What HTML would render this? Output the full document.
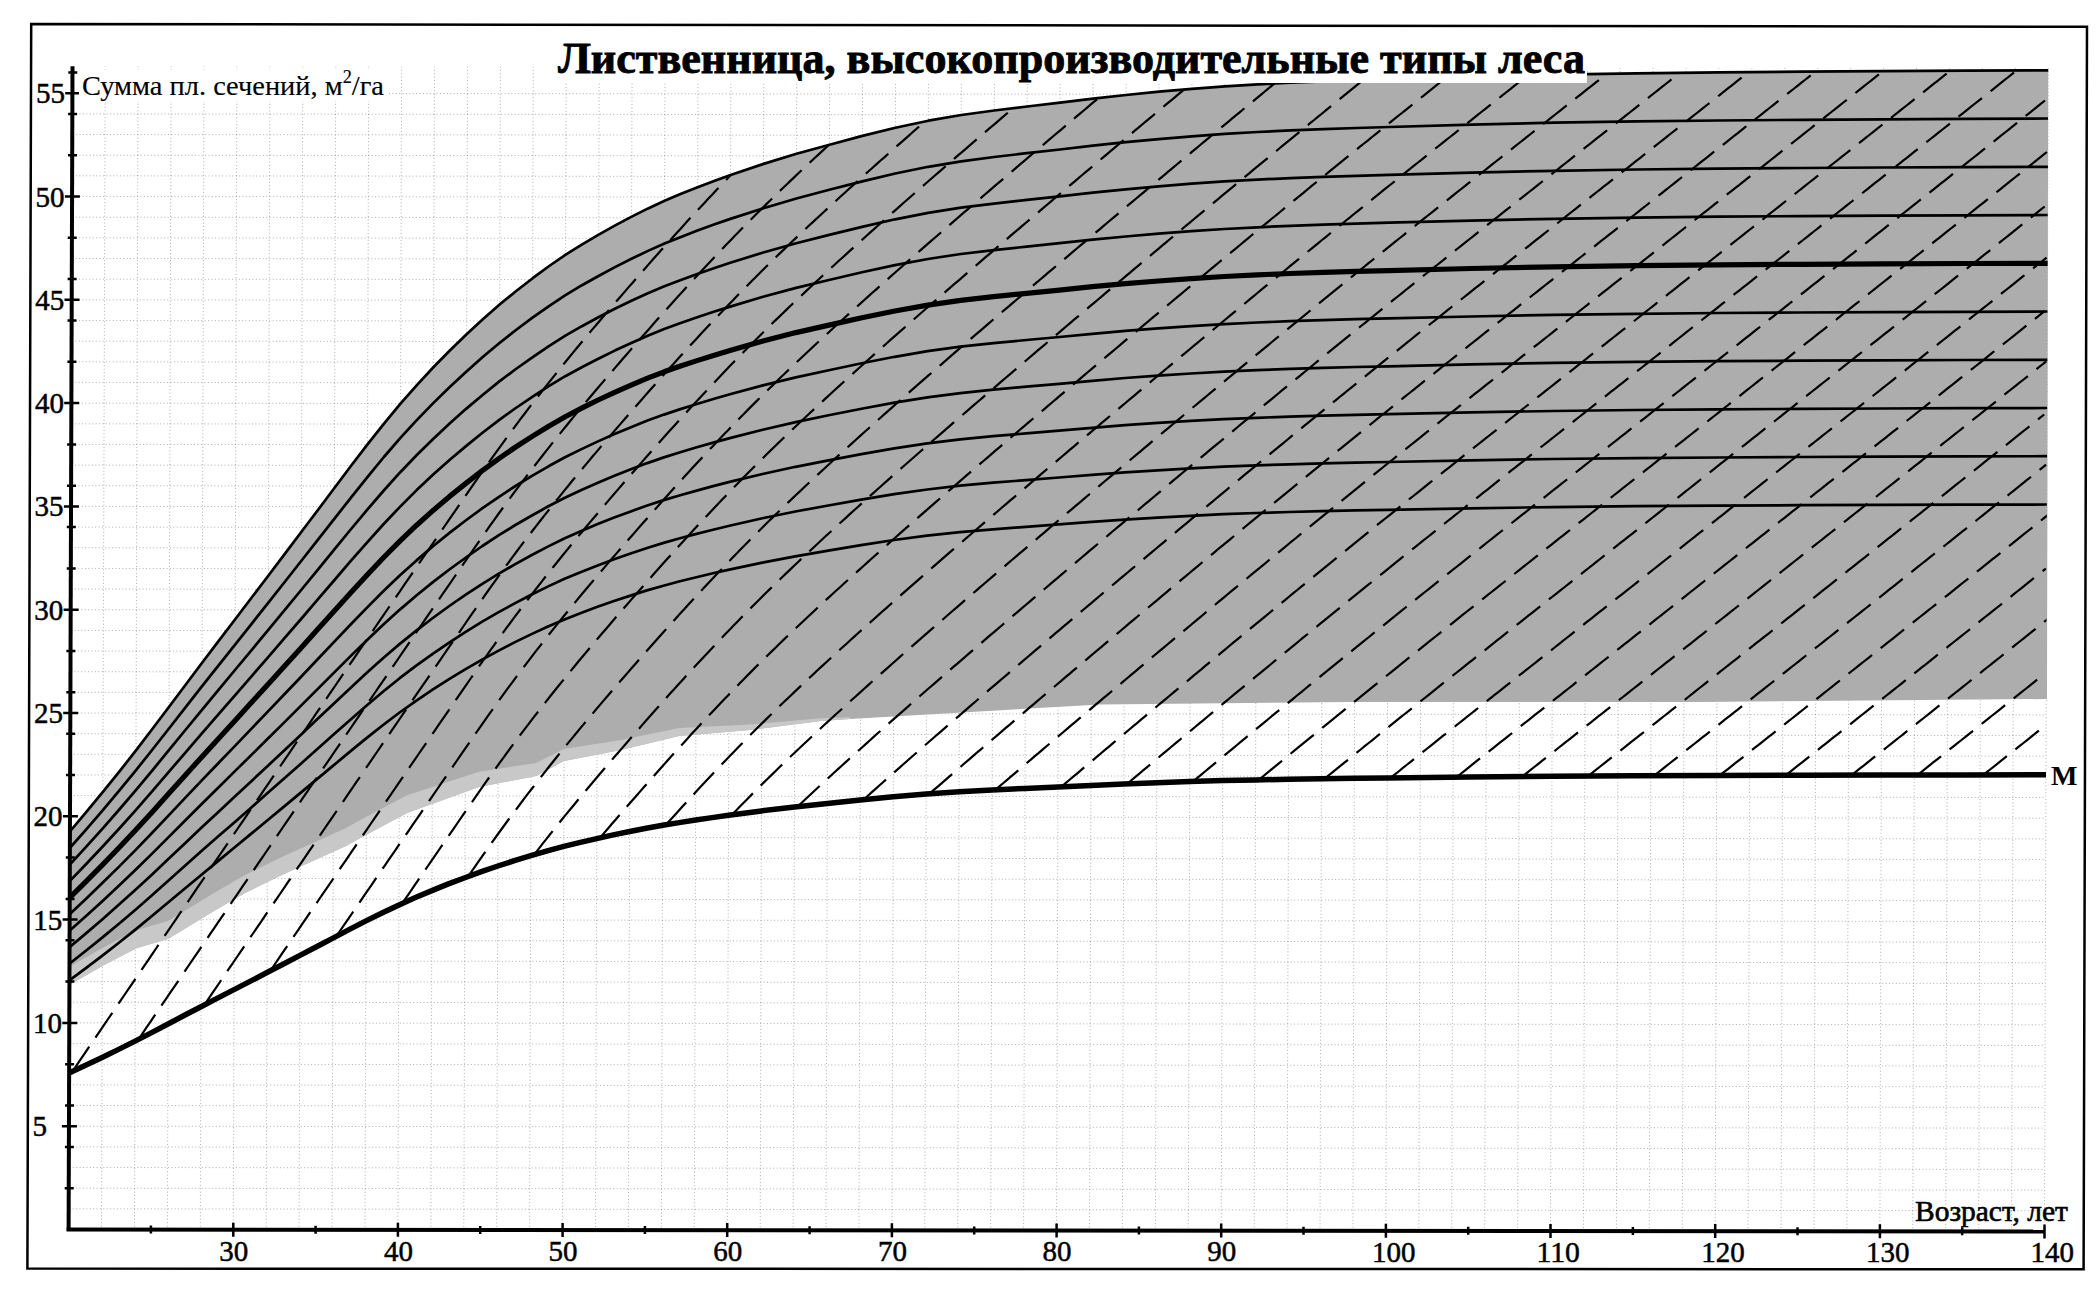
<!DOCTYPE html>
<html><head><meta charset="utf-8"><style>
html,body{margin:0;padding:0;background:#fff;overflow:hidden;}
svg{display:block;}
</style></head><body>
<svg width="2100" height="1295" viewBox="0 0 2100 1295">
<rect width="2100" height="1295" fill="#fff"/>
<path d="M72.7,1208.8 L2044.6,1210.7 M72.7,1188.2 L2044.7,1190.1 M72.8,1167.5 L2044.7,1169.4 M72.9,1146.9 L2044.8,1148.8 M72.9,1126.2 L2044.8,1128.1 M73.0,1105.5 L2044.9,1107.4 M73.1,1084.9 L2045.0,1086.8 M73.1,1064.2 L2045.0,1066.1 M73.2,1043.6 L2045.1,1045.5 M73.3,1022.9 L2045.2,1024.8 M73.3,1002.2 L2045.2,1004.1 M73.4,981.6 L2045.3,983.5 M73.5,960.9 L2045.4,962.8 M73.5,940.3 L2045.4,942.2 M73.6,919.6 L2045.5,921.5 M73.6,898.9 L2045.6,900.8 M73.7,878.3 L2045.6,880.2 M73.8,857.6 L2045.7,859.5 M73.8,837.0 L2045.8,838.9 M73.9,816.3 L2045.8,818.2 M74.0,795.6 L2045.9,797.5 M74.0,775.0 L2046.0,776.9 M74.1,754.3 L2046.0,756.2 M74.2,733.7 L2046.1,735.6 M74.2,713.0 L2046.2,714.9 M74.3,692.3 L2046.2,694.2 M74.4,671.7 L2046.3,673.6 M74.4,651.0 L2046.4,652.9 M74.5,630.4 L2046.4,632.3 M74.6,609.7 L2046.5,611.6 M74.6,589.0 L2046.6,590.9 M74.7,568.4 L2046.6,570.3 M74.8,547.7 L2046.7,549.6 M74.8,527.1 L2046.7,529.0 M74.9,506.4 L2046.8,508.3 M75.0,485.7 L2046.9,487.6 M75.0,465.1 L2046.9,467.0 M75.1,444.4 L2047.0,446.3 M75.2,423.8 L2047.1,425.7 M75.2,403.1 L2047.1,405.0 M75.3,382.4 L2047.2,384.3 M75.4,361.8 L2047.3,363.7 M75.4,341.1 L2047.3,343.0 M75.5,320.5 L2047.4,322.4 M75.5,299.8 L2047.5,301.7 M75.6,279.1 L2047.5,281.0 M75.7,258.5 L2047.6,260.4 M75.7,237.8 L2047.7,239.7 M75.8,217.2 L2047.7,219.1 M75.9,196.5 L2047.8,198.4 M75.9,175.8 L2047.9,177.7 M76.0,155.2 L2047.9,157.1 M76.1,134.5 L2048.0,136.4 M76.1,113.9 L2048.1,115.8 M76.2,93.2 L2048.1,95.1 M101.5,1226.5 L105.2,66.4 M134.5,1226.6 L138.1,66.4 M167.4,1226.6 L171.1,66.4 M200.3,1226.6 L204.0,66.5 M233.3,1226.7 L236.9,66.5 M266.2,1226.7 L269.9,66.5 M299.1,1226.7 L302.8,66.6 M332.1,1226.8 L335.7,66.6 M365.0,1226.8 L368.7,66.6 M397.9,1226.8 L401.6,66.7 M430.9,1226.8 L434.5,66.7 M463.8,1226.9 L467.5,66.7 M496.7,1226.9 L500.4,66.8 M529.6,1226.9 L533.3,66.8 M562.6,1227.0 L566.2,66.8 M595.5,1227.0 L599.2,66.8 M628.4,1227.0 L632.1,66.9 M661.4,1227.1 L665.0,66.9 M694.3,1227.1 L698.0,66.9 M727.2,1227.1 L730.9,67.0 M760.2,1227.2 L763.8,67.0 M793.1,1227.2 L796.8,67.0 M826.0,1227.2 L829.7,67.1 M859.0,1227.3 L862.6,67.1 M891.9,1227.3 L895.6,67.1 M924.8,1227.3 L928.5,67.2 M957.8,1227.4 L961.4,67.2 M990.7,1227.4 L994.4,67.2 M1023.6,1227.4 L1027.3,67.3 M1056.6,1227.4 L1060.2,67.3 M1089.5,1227.5 L1093.2,67.3 M1122.4,1227.5 L1126.1,67.4 M1155.4,1227.5 L1159.0,67.4 M1188.3,1227.6 L1192.0,67.4 M1221.2,1227.6 L1224.9,67.4 M1254.2,1227.6 L1257.8,67.5 M1287.1,1227.7 L1290.8,67.5 M1320.0,1227.7 L1323.7,67.5 M1352.9,1227.7 L1356.6,67.6 M1385.9,1227.8 L1389.5,67.6 M1418.8,1227.8 L1422.5,67.6 M1451.7,1227.8 L1455.4,67.7 M1484.7,1227.9 L1488.3,67.7 M1517.6,1227.9 L1521.3,67.7 M1550.5,1227.9 L1554.2,67.8 M1583.5,1228.0 L1587.1,67.8 M1616.4,1228.0 L1620.1,67.8 M1649.3,1228.0 L1653.0,67.9 M1682.3,1228.0 L1685.9,67.9 M1715.2,1228.1 L1718.9,67.9 M1748.1,1228.1 L1751.8,68.0 M1781.1,1228.1 L1784.7,68.0 M1814.0,1228.2 L1817.7,68.0 M1846.9,1228.2 L1850.6,68.0 M1879.9,1228.2 L1883.5,68.1 M1912.8,1228.3 L1916.5,68.1 M1945.7,1228.3 L1949.4,68.1 M1978.7,1228.3 L1982.3,68.2 M2011.6,1228.4 L2015.3,68.2 M2044.5,1228.4 L2048.2,68.2" stroke="#000" stroke-width="1" stroke-dasharray="1 2.4" fill="none" opacity="0.32"/>
<path d="M69.9,831.5 L86.4,811.9 L102.9,791.9 L119.5,771.4 L136.0,750.4 L152.5,728.7 L169.1,706.8 L185.6,684.7 L202.1,662.7 L218.7,640.9 L235.2,619.3 L251.7,597.5 L268.3,575.8 L284.8,553.9 L301.3,532.0 L317.9,510.0 L334.4,488.0 L350.9,466.0 L367.5,444.4 L384.0,423.6 L400.5,403.6 L417.1,384.8 L433.6,367.0 L450.1,350.2 L466.6,334.2 L483.1,319.0 L499.6,304.5 L516.2,291.0 L532.7,278.2 L549.2,266.0 L565.7,254.7 L582.2,244.3 L598.7,234.6 L615.2,225.4 L631.7,216.6 L648.1,208.4 L664.6,200.8 L681.1,193.8 L697.6,187.3 L714.1,181.0 L730.6,175.0 L763.6,163.9 L796.5,153.7 L829.5,144.7 L862.4,135.9 L895.4,127.7 L928.4,120.7 L961.3,115.0 L994.2,110.5 L1027.2,106.5 L1060.1,102.7 L1093.1,98.6 L1126.0,95.0 L1159.0,91.7 L1191.9,88.9 L1224.8,86.3 L1257.8,84.4 L1290.7,82.7 L1323.7,81.4 L1356.6,80.2 L1389.5,79.2 L1471.9,76.7 L1554.2,74.7 L1636.5,73.3 L1718.9,72.3 L1801.2,71.6 L1883.5,71.1 L1965.9,70.6 L2048.2,70.3 L2047.0,699.0 L1700.0,702.0 L1350.0,702.0 L1100.0,704.5 L850.0,719.0 L821.0,721.0 L750.0,730.0 L679.0,736.0 L621.0,750.0 L564.0,761.0 L536.0,776.0 L479.0,787.0 L407.0,813.0 L364.0,836.0 L346.0,846.0 L315.0,860.0 L284.0,874.0 L245.0,893.0 L214.0,911.0 L168.0,939.0 L137.0,948.0 L106.0,964.0 L70.8,984.0 Z" fill="#adadad"/>
<path d="M850.0,719.0 L821.0,721.0 L750.0,730.0 L679.0,736.0 L621.0,750.0 L564.0,761.0 L536.0,776.0 L479.0,787.0 L407.0,813.0 L364.0,836.0 L346.0,846.0 L315.0,860.0 L284.0,874.0 L245.0,893.0 L214.0,911.0 L168.0,939.0 L137.0,948.0 L106.0,964.0 L70.8,984.0 L70.8,966.0 L106.0,946.0 L137.0,930.0 L168.0,921.0 L214.0,893.0 L245.0,875.0 L284.0,856.0 L315.0,842.0 L346.0,828.0 L364.0,818.0 L407.0,795.3 L479.0,771.8 L536.0,762.9 L564.0,748.9 L621.0,740.0 L679.0,728.0 L750.0,724.6 L821.0,718.2 L850.0,717.2 Z" fill="#c8c8c8"/>
<clipPath id="cl"><path d="M69.1,1073.0 L85.6,1065.3 L102.1,1057.4 L118.6,1049.4 L135.1,1041.1 L151.6,1032.6 L168.0,1024.0 L184.5,1015.3 L201.0,1006.7 L217.5,998.1 L234.0,989.6 L250.5,981.1 L267.0,972.5 L283.5,964.0 L300.0,955.4 L316.5,946.7 L333.0,938.1 L349.5,929.4 L366.0,920.9 L382.5,912.8 L399.0,904.9 L415.4,897.5 L431.9,890.6 L448.4,883.9 L464.9,877.7 L481.4,871.7 L497.9,866.0 L514.4,860.7 L530.8,855.7 L547.3,850.9 L563.8,846.4 L580.3,842.4 L596.8,838.6 L613.2,834.9 L629.7,831.5 L646.2,828.3 L662.7,825.3 L679.1,822.6 L695.6,820.0 L712.1,817.6 L728.6,815.2 L761.5,810.9 L794.4,806.9 L827.4,803.4 L860.3,799.9 L893.3,796.7 L926.2,794.0 L959.2,791.8 L992.1,790.0 L1025.0,788.4 L1058.0,787.0 L1090.9,785.4 L1123.8,784.0 L1156.8,782.7 L1189.7,781.6 L1222.6,780.6 L1255.6,779.9 L1288.5,779.3 L1321.4,778.7 L1354.4,778.3 L1387.3,777.9 L1469.6,777.0 L1552.0,776.3 L1634.3,775.7 L1716.6,775.4 L1799.0,775.2 L1881.3,775.0 L1963.6,774.9 L2046.0,774.8 L2048.2,70.3 L1965.9,70.6 L1883.5,71.1 L1801.2,71.6 L1718.9,72.3 L1636.5,73.3 L1554.2,74.7 L1471.9,76.7 L1389.5,79.2 L1356.6,80.2 L1323.7,81.4 L1290.7,82.7 L1257.8,84.4 L1224.8,86.3 L1191.9,88.9 L1159.0,91.7 L1126.0,95.0 L1093.1,98.6 L1060.1,102.7 L1027.2,106.5 L994.2,110.5 L961.3,115.0 L928.4,120.7 L895.4,127.7 L862.4,135.9 L829.5,144.7 L796.5,153.7 L763.6,163.9 L730.6,175.0 L714.1,181.0 L697.6,187.3 L681.1,193.8 L664.6,200.8 L648.1,208.4 L631.7,216.6 L615.2,225.4 L598.7,234.6 L582.2,244.3 L565.7,254.7 L549.2,266.0 L532.7,278.2 L516.2,291.0 L499.6,304.5 L483.1,319.0 L466.6,334.2 L450.1,350.2 L433.6,367.0 L417.1,384.8 L400.5,403.6 L384.0,423.6 L367.5,444.4 L350.9,466.0 L334.4,488.0 L317.9,510.0 L301.3,532.0 L284.8,553.9 L268.3,575.8 L251.7,597.5 L235.2,619.3 L218.7,640.9 L202.1,662.7 L185.6,684.7 L169.1,706.8 L152.5,728.7 L136.0,750.4 L119.5,771.4 L102.9,791.9 L86.4,811.9 L69.9,831.5 Z"/></clipPath>
<g clip-path="url(#cl)"><path d="M72.4,1071.5 L76.4,1065.6 L80.4,1059.7 L84.4,1053.8 L88.4,1047.9 L92.4,1042.1 L96.4,1036.2 L100.4,1030.3 L104.4,1024.4 L108.4,1018.5 L112.4,1012.7 L116.4,1006.8 L120.4,1000.9 L124.4,995.0 L128.4,989.1 L132.4,983.3 L136.4,977.4 L140.4,971.5 L144.4,965.6 L148.4,959.8 L152.4,953.9 L156.4,948.0 L160.4,942.1 L164.4,936.2 L168.4,930.4 L172.4,924.5 L176.4,918.6 L180.4,912.7 L184.4,906.9 L188.4,901.0 L192.4,895.1 L196.4,889.2 L200.4,883.4 L204.4,877.5 L208.4,871.6 L212.4,865.7 L216.4,859.9 L220.4,854.0 L224.4,848.1 L228.4,842.3 L232.4,836.4 L236.4,830.5 L240.4,824.6 L244.4,818.8 L248.4,812.9 L252.4,807.0 L256.4,801.2 L260.4,795.3 L264.4,789.4 L268.4,783.6 L272.4,777.7 L276.4,771.8 L280.4,766.0 L284.4,760.1 L288.4,754.3 L292.4,748.4 L296.4,742.5 L300.4,736.7 L304.4,730.8 L308.4,725.0 L312.4,719.1 L316.4,713.2 L320.4,707.4 L324.4,701.5 L328.4,695.7 L332.4,689.8 L336.4,684.0 L340.4,678.1 L344.4,672.3 L348.4,666.4 L352.4,660.6 L356.4,654.8 L360.4,648.9 L364.4,643.1 L368.4,637.2 L372.4,631.4 L376.4,625.5 L380.4,619.7 L384.4,613.9 L388.4,608.0 L392.4,602.2 L396.4,596.4 L400.4,590.6 L404.4,584.7 L408.4,578.9 L412.4,573.1 L416.4,567.2 L420.4,561.4 L424.4,555.6 L428.4,549.8 L432.4,544.0 L436.4,538.2 L440.4,532.3 L444.4,526.5 L448.4,520.7 L452.4,514.9 L456.4,509.1 L460.4,503.3 L464.4,497.5 L468.4,491.7 L472.4,485.9 L476.4,480.2 L480.4,474.4 L484.4,468.7 L488.4,463.0 L492.4,457.4 L496.4,451.8 L500.4,446.3 L504.4,440.8 L508.4,435.3 L512.4,429.9 L516.4,424.6 L520.4,419.2 L524.4,414.0 L528.4,408.7 L532.4,403.5 L536.4,398.4 L540.4,393.3 L544.4,388.2 L548.4,383.1 L552.4,378.1 L556.4,373.1 L560.4,368.1 L564.4,363.2 L568.4,358.2 L572.4,353.4 L576.4,348.5 L580.4,343.7 L584.4,338.9 L588.4,334.1 L592.4,329.4 L596.4,324.7 L600.4,320.0 L604.4,315.3 L608.4,310.6 L612.4,305.9 L616.4,301.3 L620.4,296.7 L624.4,292.1 L628.4,287.4 L632.4,282.9 L636.4,278.3 L640.4,273.7 L644.4,269.2 L648.4,264.6 L652.4,260.1 L656.4,255.6 L660.4,251.1 L664.4,246.6 L668.4,242.2 L672.4,237.7 L676.4,233.3 L680.4,228.9 L684.4,224.5 L688.4,220.1 L692.4,215.8 L696.4,211.5 L700.4,207.2 L704.4,202.9 L708.4,198.6 L712.4,194.4 L716.4,190.1 L720.4,185.9 L724.4,181.7 L728.4,177.6 L732.4,173.4 L736.4,169.3 L740.4,165.2 L744.4,161.1 L744.4,161.1 M138.4,1039.5 L142.4,1033.6 L146.4,1027.7 L150.4,1021.8 L154.4,1015.9 L158.4,1010.1 L162.4,1004.2 L166.4,998.3 L170.4,992.4 L174.4,986.6 L178.4,980.7 L182.4,974.8 L186.4,968.9 L190.4,963.0 L194.4,957.2 L198.4,951.3 L202.4,945.4 L206.4,939.6 L210.4,933.7 L214.4,927.8 L218.4,921.9 L222.4,916.1 L226.4,910.2 L230.4,904.3 L234.4,898.4 L238.4,892.6 L242.4,886.7 L246.4,880.8 L250.4,875.0 L254.4,869.1 L258.4,863.2 L262.4,857.4 L266.4,851.5 L270.4,845.6 L274.4,839.8 L278.4,833.9 L282.4,828.0 L286.4,822.2 L290.4,816.3 L294.4,810.5 L298.4,804.6 L302.4,798.7 L306.4,792.9 L310.4,787.0 L314.4,781.2 L318.4,775.3 L322.4,769.5 L326.4,763.6 L330.4,757.8 L334.4,751.9 L338.4,746.1 L342.4,740.2 L346.4,734.4 L350.4,728.5 L354.4,722.7 L358.4,716.8 L362.4,711.0 L366.4,705.1 L370.4,699.3 L374.4,693.5 L378.4,687.6 L382.4,681.8 L386.4,676.0 L390.4,670.1 L394.4,664.3 L398.4,658.5 L402.4,652.6 L406.4,646.8 L410.4,641.0 L414.4,635.2 L418.4,629.3 L422.4,623.5 L426.4,617.7 L430.4,611.9 L434.4,606.1 L438.4,600.3 L442.4,594.4 L446.4,588.6 L450.4,582.8 L454.4,577.0 L458.4,571.2 L462.4,565.4 L466.4,559.6 L470.4,553.8 L474.4,548.0 L478.4,542.3 L482.4,536.6 L486.4,530.9 L490.4,525.2 L494.4,519.6 L498.4,514.0 L502.4,508.5 L506.4,503.0 L510.4,497.6 L514.4,492.2 L518.4,486.9 L522.4,481.6 L526.4,476.4 L530.4,471.1 L534.4,466.0 L538.4,460.8 L542.4,455.7 L546.4,450.6 L550.4,445.6 L554.4,440.5 L558.4,435.6 L562.4,430.6 L566.4,425.7 L570.4,420.8 L574.4,415.9 L578.4,411.1 L582.4,406.3 L586.4,401.5 L590.4,396.8 L594.4,392.0 L598.4,387.3 L602.4,382.6 L606.4,377.9 L610.4,373.3 L614.4,368.6 L618.4,364.0 L622.4,359.3 L626.4,354.7 L630.4,350.1 L634.4,345.6 L638.4,341.0 L642.4,336.4 L646.4,331.9 L650.4,327.4 L654.4,322.8 L658.4,318.3 L662.4,313.9 L666.4,309.4 L670.4,304.9 L674.4,300.5 L678.4,296.1 L682.4,291.7 L686.4,287.3 L690.4,283.0 L694.4,278.6 L698.4,274.3 L702.4,270.0 L706.4,265.7 L710.4,261.5 L714.4,257.2 L718.4,253.0 L722.4,248.8 L726.4,244.6 L730.4,240.5 L734.4,236.3 L738.4,232.2 L742.4,228.1 L746.4,224.1 L750.4,220.0 L754.4,216.0 L758.4,212.0 L762.4,208.1 L766.4,204.1 L770.4,200.2 L774.4,196.3 L778.4,192.4 L782.4,188.5 L786.4,184.7 L790.4,180.9 L794.4,177.1 L798.4,173.3 L802.4,169.5 L806.4,165.8 L810.4,162.0 L814.4,158.3 L818.4,154.6 L822.4,150.9 L826.4,147.2 L830.4,143.5 L834.4,139.8 L838.4,136.2 L842.4,132.5 L842.9,132.1 M204.3,1005.0 L208.3,999.1 L212.3,993.2 L216.3,987.3 L220.3,981.5 L224.3,975.6 L228.3,969.7 L232.3,963.9 L236.3,958.0 L240.3,952.1 L244.3,946.2 L248.3,940.4 L252.3,934.5 L256.3,928.6 L260.3,922.8 L264.3,916.9 L268.3,911.0 L272.3,905.2 L276.3,899.3 L280.3,893.5 L284.3,887.6 L288.3,881.7 L292.3,875.9 L296.3,870.0 L300.3,864.1 L304.3,858.3 L308.3,852.4 L312.3,846.6 L316.3,840.7 L320.3,834.9 L324.3,829.0 L328.3,823.2 L332.3,817.3 L336.3,811.5 L340.3,805.6 L344.3,799.8 L348.3,793.9 L352.3,788.1 L356.3,782.2 L360.3,776.4 L364.3,770.5 L368.3,764.7 L372.3,758.9 L376.3,753.0 L380.3,747.2 L384.3,741.3 L388.3,735.5 L392.3,729.7 L396.3,723.9 L400.3,718.0 L404.3,712.2 L408.3,706.4 L412.3,700.5 L416.3,694.7 L420.3,688.9 L424.3,683.1 L428.3,677.3 L432.3,671.4 L436.3,665.6 L440.3,659.8 L444.3,654.0 L448.3,648.2 L452.3,642.4 L456.3,636.6 L460.3,630.8 L464.3,625.0 L468.3,619.2 L472.3,613.4 L476.3,607.6 L480.3,601.9 L484.3,596.2 L488.3,590.5 L492.3,584.9 L496.3,579.3 L500.3,573.7 L504.3,568.2 L508.3,562.8 L512.3,557.4 L516.3,552.0 L520.3,546.7 L524.3,541.4 L528.3,536.2 L532.3,531.0 L536.3,525.8 L540.3,520.7 L544.3,515.6 L548.3,510.6 L552.3,505.5 L556.3,500.5 L560.3,495.6 L564.3,490.6 L568.3,485.7 L572.3,480.8 L576.3,476.0 L580.3,471.2 L584.3,466.4 L588.3,461.6 L592.3,456.8 L596.3,452.1 L600.3,447.4 L604.3,442.7 L608.3,438.0 L612.3,433.4 L616.3,428.7 L620.3,424.1 L624.3,419.5 L628.3,414.9 L632.3,410.3 L636.3,405.7 L640.3,401.2 L644.3,396.6 L648.3,392.1 L652.3,387.6 L656.3,383.1 L660.3,378.6 L664.3,374.1 L668.3,369.6 L672.3,365.2 L676.3,360.8 L680.3,356.3 L684.3,352.0 L688.3,347.6 L692.3,343.2 L696.3,338.9 L700.3,334.6 L704.3,330.3 L708.3,326.0 L712.3,321.8 L716.3,317.6 L720.3,313.4 L724.3,309.2 L728.3,305.0 L732.3,300.9 L736.3,296.7 L740.3,292.6 L744.3,288.6 L748.3,284.5 L752.3,280.5 L756.3,276.5 L760.3,272.5 L764.3,268.5 L768.3,264.6 L772.3,260.7 L776.3,256.8 L780.3,252.9 L784.3,249.1 L788.3,245.2 L792.3,241.4 L796.3,237.6 L800.3,233.9 L804.3,230.1 L808.3,226.3 L812.3,222.6 L816.3,218.9 L820.3,215.2 L824.3,211.5 L828.3,207.8 L832.3,204.1 L836.3,200.5 L840.3,196.8 L844.3,193.2 L848.3,189.5 L852.3,185.9 L856.3,182.3 L860.3,178.7 L864.3,175.1 L868.3,171.5 L872.3,168.0 L876.3,164.4 L880.3,160.8 L884.3,157.3 L888.3,153.7 L892.3,150.2 L896.3,146.6 L900.3,143.1 L904.3,139.6 L908.3,136.1 L912.3,132.5 L916.3,129.0 L920.3,125.5 L924.3,122.0 L928.3,118.6 L932.3,115.1 L936.3,111.6 L938.3,109.9 M270.3,970.8 L274.3,965.0 L278.3,959.1 L282.3,953.2 L286.3,947.4 L290.3,941.5 L294.3,935.7 L298.3,929.8 L302.3,923.9 L306.3,918.1 L310.3,912.2 L314.3,906.4 L318.3,900.5 L322.3,894.7 L326.3,888.8 L330.3,883.0 L334.3,877.1 L338.3,871.2 L342.3,865.4 L346.3,859.6 L350.3,853.7 L354.3,847.9 L358.3,842.0 L362.3,836.2 L366.3,830.3 L370.3,824.5 L374.3,818.7 L378.3,812.8 L382.3,807.0 L386.3,801.1 L390.3,795.3 L394.3,789.5 L398.3,783.7 L402.3,777.8 L406.3,772.0 L410.3,766.2 L414.3,760.3 L418.3,754.5 L422.3,748.7 L426.3,742.9 L430.3,737.1 L434.3,731.3 L438.3,725.4 L442.3,719.6 L446.3,713.8 L450.3,708.0 L454.3,702.2 L458.3,696.4 L462.3,690.6 L466.3,684.8 L470.3,679.0 L474.3,673.2 L478.3,667.5 L482.3,661.7 L486.3,656.1 L490.3,650.4 L494.3,644.8 L498.3,639.2 L502.3,633.7 L506.3,628.2 L510.3,622.8 L514.3,617.4 L518.3,612.1 L522.3,606.8 L526.3,601.5 L530.3,596.3 L534.3,591.1 L538.3,586.0 L542.3,580.9 L546.3,575.8 L550.3,570.7 L554.3,565.7 L558.3,560.7 L562.3,555.8 L566.3,550.9 L570.3,546.0 L574.3,541.1 L578.3,536.3 L582.3,531.5 L586.3,526.7 L590.3,521.9 L594.3,517.2 L598.3,512.5 L602.3,507.8 L606.3,503.1 L610.3,498.4 L614.3,493.8 L618.3,489.1 L622.3,484.5 L626.3,479.9 L630.3,475.3 L634.3,470.7 L638.3,466.2 L642.3,461.6 L646.3,457.1 L650.3,452.5 L654.3,448.0 L658.3,443.5 L662.3,439.0 L666.3,434.6 L670.3,430.1 L674.3,425.7 L678.3,421.3 L682.3,416.9 L686.3,412.5 L690.3,408.1 L694.3,403.8 L698.3,399.5 L702.3,395.2 L706.3,390.9 L710.3,386.6 L714.3,382.4 L718.3,378.2 L722.3,374.0 L726.3,369.8 L730.3,365.6 L734.3,361.5 L738.3,357.4 L742.3,353.3 L746.3,349.2 L750.3,345.2 L754.3,341.2 L758.3,337.2 L762.3,333.2 L766.3,329.3 L770.3,325.3 L774.3,321.4 L778.3,317.6 L782.3,313.7 L786.3,309.9 L790.3,306.0 L794.3,302.2 L798.3,298.5 L802.3,294.7 L806.3,290.9 L810.3,287.2 L814.3,283.4 L818.3,279.7 L822.3,276.0 L826.3,272.3 L830.3,268.7 L834.3,265.0 L838.3,261.3 L842.3,257.7 L846.3,254.1 L850.3,250.4 L854.3,246.8 L858.3,243.2 L862.3,239.6 L866.3,236.0 L870.3,232.4 L874.3,228.9 L878.3,225.3 L882.3,221.7 L886.3,218.2 L890.3,214.6 L894.3,211.1 L898.3,207.6 L902.3,204.0 L906.3,200.5 L910.3,197.0 L914.3,193.5 L918.3,190.0 L922.3,186.5 L926.3,183.0 L930.3,179.5 L934.3,176.0 L938.3,172.6 L942.3,169.1 L946.3,165.6 L950.3,162.1 L954.3,158.7 L958.3,155.2 L962.3,151.8 L966.3,148.3 L970.3,144.9 L974.3,141.4 L978.3,138.0 L982.3,134.6 L986.3,131.1 L990.3,127.7 L994.3,124.3 L998.3,120.9 L1002.3,117.4 L1006.3,114.0 L1010.3,110.6 L1014.3,107.2 L1018.3,103.8 L1022.3,100.4 L1024.8,98.2 M336.3,936.4 L340.3,930.5 L344.3,924.7 L348.3,918.8 L352.3,913.0 L356.3,907.1 L360.3,901.3 L364.3,895.4 L368.3,889.6 L372.3,883.8 L376.3,877.9 L380.3,872.1 L384.3,866.3 L388.3,860.4 L392.3,854.6 L396.3,848.8 L400.3,842.9 L404.3,837.1 L408.3,831.3 L412.3,825.4 L416.3,819.6 L420.3,813.8 L424.3,808.0 L428.3,802.2 L432.3,796.3 L436.3,790.5 L440.3,784.7 L444.3,778.9 L448.3,773.1 L452.3,767.3 L456.3,761.5 L460.3,755.7 L464.3,749.9 L468.3,744.1 L472.3,738.3 L476.3,732.5 L480.3,726.8 L484.3,721.1 L488.3,715.4 L492.3,709.8 L496.3,704.2 L500.3,698.6 L504.3,693.1 L508.3,687.7 L512.3,682.3 L516.3,676.9 L520.3,671.6 L524.3,666.3 L528.3,661.1 L532.3,655.9 L536.3,650.7 L540.3,645.6 L544.3,640.5 L548.3,635.4 L552.3,630.4 L556.3,625.4 L560.3,620.4 L564.3,615.5 L568.3,610.6 L572.3,605.7 L576.3,600.9 L580.3,596.0 L584.3,591.3 L588.3,586.5 L592.3,581.7 L596.3,577.0 L600.3,572.3 L604.3,567.6 L608.3,562.9 L612.3,558.3 L616.3,553.6 L620.3,549.0 L624.3,544.4 L628.3,539.8 L632.3,535.2 L636.3,530.6 L640.3,526.1 L644.3,521.5 L648.3,517.0 L652.3,512.4 L656.3,507.9 L660.3,503.4 L664.3,499.0 L668.3,494.5 L672.3,490.1 L676.3,485.6 L680.3,481.2 L684.3,476.8 L688.3,472.5 L692.3,468.1 L696.3,463.8 L700.3,459.5 L704.3,455.2 L708.3,450.9 L712.3,446.7 L716.3,442.5 L720.3,438.2 L724.3,434.1 L728.3,429.9 L732.3,425.7 L736.3,421.6 L740.3,417.5 L744.3,413.4 L748.3,409.4 L752.3,405.4 L756.3,401.4 L760.3,397.4 L764.3,393.4 L768.3,389.5 L772.3,385.6 L776.3,381.7 L780.3,377.8 L784.3,374.0 L788.3,370.1 L792.3,366.3 L796.3,362.5 L800.3,358.7 L804.3,355.0 L808.3,351.2 L812.3,347.5 L816.3,343.8 L820.3,340.0 L824.3,336.4 L828.3,332.7 L832.3,329.0 L836.3,325.3 L840.3,321.7 L844.3,318.0 L848.3,314.4 L852.3,310.8 L856.3,307.2 L860.3,303.6 L864.3,300.0 L868.3,296.4 L872.3,292.8 L876.3,289.3 L880.3,285.7 L884.3,282.1 L888.3,278.6 L892.3,275.0 L896.3,271.5 L900.3,268.0 L904.3,264.5 L908.3,260.9 L912.3,257.4 L916.3,253.9 L920.3,250.4 L924.3,246.9 L928.3,243.4 L932.3,239.9 L936.3,236.5 L940.3,233.0 L944.3,229.5 L948.3,226.1 L952.3,222.6 L956.3,219.1 L960.3,215.7 L964.3,212.2 L968.3,208.8 L972.3,205.3 L976.3,201.9 L980.3,198.5 L984.3,195.0 L988.3,191.6 L992.3,188.2 L996.3,184.7 L1000.3,181.3 L1004.3,177.9 L1008.3,174.5 L1012.3,171.1 L1016.3,167.7 L1020.3,164.2 L1024.3,160.8 L1028.3,157.4 L1032.3,154.0 L1036.3,150.6 L1040.3,147.2 L1044.3,143.8 L1048.3,140.4 L1052.3,137.0 L1056.3,133.6 L1060.3,130.3 L1064.3,126.9 L1068.3,123.5 L1072.3,120.1 L1076.3,116.7 L1080.3,113.3 L1084.3,110.0 L1088.3,106.6 L1092.3,103.2 L1096.3,99.8 L1100.3,96.5 L1104.3,93.1 L1108.3,89.7 L1110.3,88.0 M402.2,903.4 L406.2,897.6 L410.2,891.8 L414.2,885.9 L418.2,880.1 L422.2,874.3 L426.2,868.5 L430.2,862.6 L434.2,856.8 L438.2,851.0 L442.2,845.2 L446.2,839.4 L450.2,833.6 L454.2,827.8 L458.2,822.0 L462.2,816.2 L466.2,810.4 L470.2,804.6 L474.2,798.8 L478.2,793.1 L482.2,787.3 L486.2,781.6 L490.2,776.0 L494.2,770.4 L498.2,764.8 L502.2,759.3 L506.2,753.8 L510.2,748.4 L514.2,743.0 L518.2,737.6 L522.2,732.3 L526.2,727.1 L530.2,721.9 L534.2,716.7 L538.2,711.6 L542.2,706.4 L546.2,701.4 L550.2,696.3 L554.2,691.3 L558.2,686.3 L562.2,681.4 L566.2,676.4 L570.2,671.5 L574.2,666.7 L578.2,661.8 L582.2,657.0 L586.2,652.2 L590.2,647.5 L594.2,642.7 L598.2,638.0 L602.2,633.3 L606.2,628.7 L610.2,624.0 L614.2,619.3 L618.2,614.7 L622.2,610.1 L626.2,605.5 L630.2,600.9 L634.2,596.3 L638.2,591.7 L642.2,587.2 L646.2,582.6 L650.2,578.1 L654.2,573.6 L658.2,569.1 L662.2,564.6 L666.2,560.1 L670.2,555.7 L674.2,551.2 L678.2,546.8 L682.2,542.4 L686.2,538.0 L690.2,533.7 L694.2,529.3 L698.2,525.0 L702.2,520.7 L706.2,516.4 L710.2,512.2 L714.2,507.9 L718.2,503.7 L722.2,499.5 L726.2,495.4 L730.2,491.2 L734.2,487.1 L738.2,482.9 L742.2,478.9 L746.2,474.8 L750.2,470.7 L754.2,466.7 L758.2,462.7 L762.2,458.8 L766.2,454.8 L770.2,450.9 L774.2,447.0 L778.2,443.1 L782.2,439.3 L786.2,435.4 L790.2,431.6 L794.2,427.8 L798.2,424.0 L802.2,420.2 L806.2,416.5 L810.2,412.7 L814.2,409.0 L818.2,405.3 L822.2,401.6 L826.2,397.9 L830.2,394.2 L834.2,390.5 L838.2,386.9 L842.2,383.2 L846.2,379.6 L850.2,376.0 L854.2,372.4 L858.2,368.8 L862.2,365.2 L866.2,361.6 L870.2,358.0 L874.2,354.4 L878.2,350.8 L882.2,347.3 L886.2,343.7 L890.2,340.2 L894.2,336.6 L898.2,333.1 L902.2,329.6 L906.2,326.1 L910.2,322.5 L914.2,319.0 L918.2,315.5 L922.2,312.0 L926.2,308.5 L930.2,305.1 L934.2,301.6 L938.2,298.1 L942.2,294.6 L946.2,291.2 L950.2,287.7 L954.2,284.2 L958.2,280.8 L962.2,277.3 L966.2,273.9 L970.2,270.4 L974.2,267.0 L978.2,263.6 L982.2,260.1 L986.2,256.7 L990.2,253.3 L994.2,249.8 L998.2,246.4 L1002.2,243.0 L1006.2,239.6 L1010.2,236.1 L1014.2,232.7 L1018.2,229.3 L1022.2,225.9 L1026.2,222.5 L1030.2,219.1 L1034.2,215.7 L1038.2,212.3 L1042.2,208.9 L1046.2,205.5 L1050.2,202.1 L1054.2,198.7 L1058.2,195.3 L1062.2,191.9 L1066.2,188.5 L1070.2,185.2 L1074.2,181.8 L1078.2,178.4 L1082.2,175.0 L1086.2,171.6 L1090.2,168.3 L1094.2,164.9 L1098.2,161.5 L1102.2,158.2 L1106.2,154.8 L1110.2,151.4 L1114.2,148.1 L1118.2,144.7 L1122.2,141.3 L1126.2,138.0 L1130.2,134.6 L1134.2,131.2 L1138.2,127.9 L1142.2,124.5 L1146.2,121.2 L1150.2,117.8 L1154.2,114.5 L1158.2,111.1 L1162.2,107.8 L1166.2,104.4 L1170.2,101.1 L1174.2,97.8 L1178.2,94.4 L1182.2,91.1 L1186.2,87.7 L1190.2,84.4 L1194.2,81.1 L1195.2,80.2 M468.2,876.4 L472.2,870.7 L476.2,864.9 L480.2,859.2 L484.2,853.4 L488.2,847.8 L492.2,842.1 L496.2,836.5 L500.2,831.0 L504.2,825.5 L508.2,820.0 L512.2,814.6 L516.2,809.3 L520.2,804.0 L524.2,798.7 L528.2,793.4 L532.2,788.3 L536.2,783.1 L540.2,778.0 L544.2,772.9 L548.2,767.8 L552.2,762.8 L556.2,757.8 L560.2,752.8 L564.2,747.8 L568.2,742.9 L572.2,738.1 L576.2,733.2 L580.2,728.4 L584.2,723.6 L588.2,718.8 L592.2,714.1 L596.2,709.3 L600.2,704.6 L604.2,699.9 L608.2,695.3 L612.2,690.6 L616.2,686.0 L620.2,681.3 L624.2,676.7 L628.2,672.1 L632.2,667.5 L636.2,663.0 L640.2,658.4 L644.2,653.8 L648.2,649.3 L652.2,644.8 L656.2,640.3 L660.2,635.8 L664.2,631.3 L668.2,626.8 L672.2,622.4 L676.2,618.0 L680.2,613.6 L684.2,609.2 L688.2,604.8 L692.2,600.5 L696.2,596.1 L700.2,591.8 L704.2,587.5 L708.2,583.3 L712.2,579.0 L716.2,574.8 L720.2,570.6 L724.2,566.4 L728.2,562.2 L732.2,558.1 L736.2,553.9 L740.2,549.8 L744.2,545.8 L748.2,541.7 L752.2,537.7 L756.2,533.7 L760.2,529.7 L764.2,525.7 L768.2,521.8 L772.2,517.9 L776.2,514.0 L780.2,510.1 L784.2,506.3 L788.2,502.4 L792.2,498.6 L796.2,494.8 L800.2,491.1 L804.2,487.3 L808.2,483.5 L812.2,479.8 L816.2,476.1 L820.2,472.4 L824.2,468.7 L828.2,465.0 L832.2,461.3 L836.2,457.6 L840.2,454.0 L844.2,450.4 L848.2,446.7 L852.2,443.1 L856.2,439.5 L860.2,435.9 L864.2,432.3 L868.2,428.7 L872.2,425.1 L876.2,421.6 L880.2,418.0 L884.2,414.4 L888.2,410.9 L892.2,407.4 L896.2,403.8 L900.2,400.3 L904.2,396.8 L908.2,393.2 L912.2,389.7 L916.2,386.2 L920.2,382.7 L924.2,379.2 L928.2,375.7 L932.2,372.3 L936.2,368.8 L940.2,365.3 L944.2,361.8 L948.2,358.4 L952.2,354.9 L956.2,351.4 L960.2,348.0 L964.2,344.5 L968.2,341.1 L972.2,337.6 L976.2,334.2 L980.2,330.8 L984.2,327.3 L988.2,323.9 L992.2,320.5 L996.2,317.1 L1000.2,313.6 L1004.2,310.2 L1008.2,306.8 L1012.2,303.4 L1016.2,300.0 L1020.2,296.6 L1024.2,293.1 L1028.2,289.7 L1032.2,286.3 L1036.2,282.9 L1040.2,279.5 L1044.2,276.1 L1048.2,272.7 L1052.2,269.3 L1056.2,266.0 L1060.2,262.6 L1064.2,259.2 L1068.2,255.8 L1072.2,252.4 L1076.2,249.0 L1080.2,245.7 L1084.2,242.3 L1088.2,238.9 L1092.2,235.5 L1096.2,232.1 L1100.2,228.8 L1104.2,225.4 L1108.2,222.0 L1112.2,218.7 L1116.2,215.3 L1120.2,211.9 L1124.2,208.6 L1128.2,205.2 L1132.2,201.9 L1136.2,198.5 L1140.2,195.2 L1144.2,191.8 L1148.2,188.4 L1152.2,185.1 L1156.2,181.7 L1160.2,178.4 L1164.2,175.1 L1168.2,171.7 L1172.2,168.4 L1176.2,165.0 L1180.2,161.7 L1184.2,158.3 L1188.2,155.0 L1192.2,151.7 L1196.2,148.3 L1200.2,145.0 L1204.2,141.7 L1208.2,138.4 L1212.2,135.0 L1216.2,131.7 L1220.2,128.4 L1224.2,125.1 L1228.2,121.8 L1232.2,118.4 L1236.2,115.1 L1240.2,111.8 L1244.2,108.5 L1248.2,105.2 L1252.2,101.9 L1256.2,98.6 L1260.2,95.3 L1264.2,92.0 L1268.2,88.7 L1272.2,85.4 L1276.2,82.1 L1280.2,78.8 L1284.2,75.5 L1285.2,74.7 M534.1,854.7 L538.1,849.6 L542.1,844.4 L546.1,839.4 L550.1,834.3 L554.1,829.3 L558.1,824.3 L562.1,819.3 L566.1,814.4 L570.1,809.5 L574.1,804.7 L578.1,799.8 L582.1,795.0 L586.1,790.2 L590.1,785.5 L594.1,780.7 L598.1,776.0 L602.1,771.3 L606.1,766.6 L610.1,762.0 L614.1,757.3 L618.1,752.7 L622.1,748.1 L626.1,743.5 L630.1,738.9 L634.1,734.3 L638.1,729.7 L642.1,725.1 L646.1,720.6 L650.1,716.1 L654.1,711.6 L658.1,707.1 L662.1,702.6 L666.1,698.1 L670.1,693.6 L674.1,689.2 L678.1,684.8 L682.1,680.4 L686.1,676.0 L690.1,671.7 L694.1,667.3 L698.1,663.0 L702.1,658.7 L706.1,654.4 L710.1,650.2 L714.1,645.9 L718.1,641.7 L722.1,637.5 L726.1,633.3 L730.1,629.2 L734.1,625.0 L738.1,620.9 L742.1,616.8 L746.1,612.8 L750.1,608.7 L754.1,604.7 L758.1,600.7 L762.1,596.7 L766.1,592.8 L770.1,588.9 L774.1,585.0 L778.1,581.1 L782.1,577.2 L786.1,573.4 L790.1,569.6 L794.1,565.7 L798.1,562.0 L802.1,558.2 L806.1,554.4 L810.1,550.7 L814.1,547.0 L818.1,543.2 L822.1,539.5 L826.1,535.8 L830.1,532.2 L834.1,528.5 L838.1,524.8 L842.1,521.2 L846.1,517.6 L850.1,513.9 L854.1,510.3 L858.1,506.7 L862.1,503.1 L866.1,499.5 L870.1,495.9 L874.1,492.4 L878.1,488.8 L882.1,485.2 L886.1,481.7 L890.1,478.1 L894.1,474.6 L898.1,471.1 L902.1,467.5 L906.1,464.0 L910.1,460.5 L914.1,457.0 L918.1,453.5 L922.1,450.0 L926.1,446.5 L930.1,443.0 L934.1,439.5 L938.1,436.1 L942.1,432.6 L946.1,429.1 L950.1,425.6 L954.1,422.2 L958.1,418.7 L962.1,415.3 L966.1,411.8 L970.1,408.4 L974.1,404.9 L978.1,401.5 L982.1,398.1 L986.1,394.6 L990.1,391.2 L994.1,387.8 L998.1,384.4 L1002.1,380.9 L1006.1,377.5 L1010.1,374.1 L1014.1,370.7 L1018.1,367.3 L1022.1,363.9 L1026.1,360.5 L1030.1,357.0 L1034.1,353.6 L1038.1,350.2 L1042.1,346.8 L1046.1,343.5 L1050.1,340.1 L1054.1,336.7 L1058.1,333.3 L1062.1,329.9 L1066.1,326.5 L1070.1,323.1 L1074.1,319.7 L1078.1,316.4 L1082.1,313.0 L1086.1,309.6 L1090.1,306.2 L1094.1,302.8 L1098.1,299.5 L1102.1,296.1 L1106.1,292.7 L1110.1,289.4 L1114.1,286.0 L1118.1,282.6 L1122.1,279.3 L1126.1,275.9 L1130.1,272.6 L1134.1,269.2 L1138.1,265.8 L1142.1,262.5 L1146.1,259.1 L1150.1,255.8 L1154.1,252.4 L1158.1,249.1 L1162.1,245.7 L1166.1,242.4 L1170.1,239.0 L1174.1,235.7 L1178.1,232.4 L1182.1,229.0 L1186.1,225.7 L1190.1,222.4 L1194.1,219.0 L1198.1,215.7 L1202.1,212.4 L1206.1,209.0 L1210.1,205.7 L1214.1,202.4 L1218.1,199.1 L1222.1,195.7 L1226.1,192.4 L1230.1,189.1 L1234.1,185.8 L1238.1,182.5 L1242.1,179.2 L1246.1,175.9 L1250.1,172.6 L1254.1,169.2 L1258.1,165.9 L1262.1,162.6 L1266.1,159.4 L1270.1,156.1 L1274.1,152.8 L1278.1,149.5 L1282.1,146.2 L1286.1,142.9 L1290.1,139.6 L1294.1,136.3 L1298.1,133.1 L1302.1,129.8 L1306.1,126.5 L1310.1,123.2 L1314.1,120.0 L1318.1,116.7 L1322.1,113.5 L1326.1,110.2 L1330.1,106.9 L1334.1,103.7 L1338.1,100.4 L1342.1,97.2 L1346.1,93.9 L1350.1,90.7 L1354.1,87.4 L1358.1,84.2 L1362.1,81.0 L1366.1,77.7 L1370.1,74.5 L1374.1,71.3 L1374.1,71.3 M600.0,837.8 L604.0,833.1 L608.0,828.5 L612.0,823.8 L616.0,819.2 L620.0,814.5 L624.0,809.9 L628.0,805.3 L632.0,800.7 L636.0,796.2 L640.0,791.6 L644.0,787.0 L648.0,782.5 L652.0,778.0 L656.0,773.5 L660.0,769.0 L664.0,764.5 L668.0,760.0 L672.0,755.6 L676.0,751.2 L680.0,746.8 L684.0,742.4 L688.0,738.0 L692.0,733.6 L696.0,729.3 L700.0,725.0 L704.0,720.7 L708.0,716.4 L712.0,712.2 L716.0,708.0 L720.0,703.8 L724.0,699.6 L728.0,695.4 L732.0,691.3 L736.0,687.1 L740.0,683.0 L744.0,678.9 L748.0,674.9 L752.0,670.9 L756.0,666.8 L760.0,662.9 L764.0,658.9 L768.0,655.0 L772.0,651.1 L776.0,647.2 L780.0,643.3 L784.0,639.4 L788.0,635.6 L792.0,631.8 L796.0,628.0 L800.0,624.2 L804.0,620.5 L808.0,616.7 L812.0,613.0 L816.0,609.2 L820.0,605.5 L824.0,601.8 L828.0,598.1 L832.0,594.5 L836.0,590.8 L840.0,587.2 L844.0,583.5 L848.0,579.9 L852.0,576.3 L856.0,572.7 L860.0,569.1 L864.0,565.5 L868.0,561.9 L872.0,558.3 L876.0,554.7 L880.0,551.2 L884.0,547.6 L888.0,544.1 L892.0,540.5 L896.0,537.0 L900.0,533.4 L904.0,529.9 L908.0,526.4 L912.0,522.9 L916.0,519.4 L920.0,515.9 L924.0,512.4 L928.0,508.9 L932.0,505.4 L936.0,501.9 L940.0,498.5 L944.0,495.0 L948.0,491.5 L952.0,488.1 L956.0,484.6 L960.0,481.1 L964.0,477.7 L968.0,474.2 L972.0,470.8 L976.0,467.4 L980.0,463.9 L984.0,460.5 L988.0,457.1 L992.0,453.6 L996.0,450.2 L1000.0,446.8 L1004.0,443.4 L1008.0,439.9 L1012.0,436.5 L1016.0,433.1 L1020.0,429.7 L1024.0,426.3 L1028.0,422.9 L1032.0,419.5 L1036.0,416.1 L1040.0,412.7 L1044.0,409.3 L1048.0,405.9 L1052.0,402.5 L1056.0,399.1 L1060.0,395.7 L1064.0,392.3 L1068.0,388.9 L1072.0,385.6 L1076.0,382.2 L1080.0,378.8 L1084.0,375.4 L1088.0,372.0 L1092.0,368.7 L1096.0,365.3 L1100.0,361.9 L1104.0,358.6 L1108.0,355.2 L1112.0,351.8 L1116.0,348.5 L1120.0,345.1 L1124.0,341.7 L1128.0,338.4 L1132.0,335.0 L1136.0,331.7 L1140.0,328.3 L1144.0,324.9 L1148.0,321.6 L1152.0,318.2 L1156.0,314.9 L1160.0,311.5 L1164.0,308.2 L1168.0,304.9 L1172.0,301.5 L1176.0,298.2 L1180.0,294.8 L1184.0,291.5 L1188.0,288.2 L1192.0,284.8 L1196.0,281.5 L1200.0,278.2 L1204.0,274.8 L1208.0,271.5 L1212.0,268.2 L1216.0,264.9 L1220.0,261.5 L1224.0,258.2 L1228.0,254.9 L1232.0,251.6 L1236.0,248.3 L1240.0,245.0 L1244.0,241.7 L1248.0,238.3 L1252.0,235.0 L1256.0,231.7 L1260.0,228.4 L1264.0,225.1 L1268.0,221.8 L1272.0,218.5 L1276.0,215.3 L1280.0,212.0 L1284.0,208.7 L1288.0,205.4 L1292.0,202.1 L1296.0,198.8 L1300.0,195.6 L1304.0,192.3 L1308.0,189.0 L1312.0,185.7 L1316.0,182.5 L1320.0,179.2 L1324.0,176.0 L1328.0,172.7 L1332.0,169.4 L1336.0,166.2 L1340.0,162.9 L1344.0,159.7 L1348.0,156.4 L1352.0,153.2 L1356.0,150.0 L1360.0,146.7 L1364.0,143.5 L1368.0,140.3 L1372.0,137.0 L1376.0,133.8 L1380.0,130.6 L1384.0,127.4 L1388.0,124.1 L1392.0,120.9 L1396.0,117.7 L1400.0,114.5 L1404.0,111.3 L1408.0,108.1 L1412.0,104.9 L1416.0,101.7 L1420.0,98.5 L1424.0,95.3 L1428.0,92.1 L1432.0,88.9 L1436.0,85.7 L1440.0,82.5 L1444.0,79.3 L1448.0,76.1 L1452.0,72.9 L1456.0,69.7 L1457.0,68.9 M666.0,824.7 L670.0,820.3 L674.0,815.9 L678.0,811.4 L682.0,807.0 L686.0,802.7 L690.0,798.3 L694.0,794.0 L698.0,789.6 L702.0,785.3 L706.0,781.1 L710.0,776.8 L714.0,772.6 L718.0,768.3 L722.0,764.1 L726.0,760.0 L730.0,755.8 L734.0,751.7 L738.0,747.5 L742.0,743.5 L746.0,739.4 L750.0,735.3 L754.0,731.3 L758.0,727.3 L762.0,723.4 L766.0,719.4 L770.0,715.5 L774.0,711.6 L778.0,707.7 L782.0,703.8 L786.0,700.0 L790.0,696.2 L794.0,692.4 L798.0,688.6 L802.0,684.8 L806.0,681.0 L810.0,677.3 L814.0,673.6 L818.0,669.8 L822.0,666.1 L826.0,662.5 L830.0,658.8 L834.0,655.1 L838.0,651.4 L842.0,647.8 L846.0,644.2 L850.0,640.5 L854.0,636.9 L858.0,633.3 L862.0,629.7 L866.0,626.1 L870.0,622.6 L874.0,619.0 L878.0,615.4 L882.0,611.8 L886.0,608.3 L890.0,604.7 L894.0,601.2 L898.0,597.7 L902.0,594.1 L906.0,590.6 L910.0,587.1 L914.0,583.6 L918.0,580.1 L922.0,576.6 L926.0,573.1 L930.0,569.6 L934.0,566.1 L938.0,562.7 L942.0,559.2 L946.0,555.7 L950.0,552.2 L954.0,548.8 L958.0,545.3 L962.0,541.9 L966.0,538.4 L970.0,535.0 L974.0,531.5 L978.0,528.1 L982.0,524.7 L986.0,521.2 L990.0,517.8 L994.0,514.4 L998.0,511.0 L1002.0,507.5 L1006.0,504.1 L1010.0,500.7 L1014.0,497.3 L1018.0,493.9 L1022.0,490.5 L1026.0,487.1 L1030.0,483.6 L1034.0,480.2 L1038.0,476.8 L1042.0,473.4 L1046.0,470.0 L1050.0,466.7 L1054.0,463.3 L1058.0,459.9 L1062.0,456.5 L1066.0,453.1 L1070.0,449.7 L1074.0,446.3 L1078.0,442.9 L1082.0,439.6 L1086.0,436.2 L1090.0,432.8 L1094.0,429.4 L1098.0,426.1 L1102.0,422.7 L1106.0,419.3 L1110.0,416.0 L1114.0,412.6 L1118.0,409.2 L1122.0,405.9 L1126.0,402.5 L1130.0,399.2 L1134.0,395.8 L1138.0,392.4 L1142.0,389.1 L1146.0,385.7 L1150.0,382.4 L1154.0,379.0 L1158.0,375.7 L1162.0,372.3 L1166.0,369.0 L1170.0,365.6 L1174.0,362.3 L1178.0,359.0 L1182.0,355.6 L1186.0,352.3 L1190.0,349.0 L1194.0,345.6 L1198.0,342.3 L1202.0,339.0 L1206.0,335.6 L1210.0,332.3 L1214.0,329.0 L1218.0,325.7 L1222.0,322.3 L1226.0,319.0 L1230.0,315.7 L1234.0,312.4 L1238.0,309.1 L1242.0,305.8 L1246.0,302.5 L1250.0,299.1 L1254.0,295.8 L1258.0,292.5 L1262.0,289.2 L1266.0,285.9 L1270.0,282.6 L1274.0,279.4 L1278.0,276.1 L1282.0,272.8 L1286.0,269.5 L1290.0,266.2 L1294.0,262.9 L1298.0,259.7 L1302.0,256.4 L1306.0,253.1 L1310.0,249.8 L1314.0,246.6 L1318.0,243.3 L1322.0,240.0 L1326.0,236.8 L1330.0,233.5 L1334.0,230.3 L1338.0,227.0 L1342.0,223.8 L1346.0,220.5 L1350.0,217.3 L1354.0,214.0 L1358.0,210.8 L1362.0,207.6 L1366.0,204.3 L1370.0,201.1 L1374.0,197.9 L1378.0,194.6 L1382.0,191.4 L1386.0,188.2 L1390.0,185.0 L1394.0,181.8 L1398.0,178.5 L1402.0,175.3 L1406.0,172.1 L1410.0,168.9 L1414.0,165.7 L1418.0,162.5 L1422.0,159.3 L1426.0,156.1 L1430.0,152.9 L1434.0,149.7 L1438.0,146.5 L1442.0,143.3 L1446.0,140.2 L1450.0,137.0 L1454.0,133.8 L1458.0,130.6 L1462.0,127.4 L1466.0,124.2 L1470.0,121.1 L1474.0,117.9 L1478.0,114.7 L1482.0,111.5 L1486.0,108.4 L1490.0,105.2 L1494.0,102.0 L1498.0,98.9 L1502.0,95.7 L1506.0,92.5 L1510.0,89.4 L1514.0,86.2 L1518.0,83.0 L1522.0,79.9 L1526.0,76.7 L1530.0,73.5 L1534.0,70.4 L1538.0,67.2 L1538.5,66.8 M731.9,814.8 L735.9,810.7 L739.9,806.5 L743.9,802.5 L747.9,798.4 L751.9,794.4 L755.9,790.4 L759.9,786.4 L763.9,782.4 L767.9,778.5 L771.9,774.6 L775.9,770.7 L779.9,766.8 L783.9,763.0 L787.9,759.1 L791.9,755.3 L795.9,751.5 L799.9,747.7 L803.9,744.0 L807.9,740.2 L811.9,736.5 L815.9,732.7 L819.9,729.0 L823.9,725.3 L827.9,721.6 L831.9,718.0 L835.9,714.3 L839.9,710.7 L843.9,707.0 L847.9,703.4 L851.9,699.8 L855.9,696.2 L859.9,692.6 L863.9,689.0 L867.9,685.4 L871.9,681.8 L875.9,678.2 L879.9,674.7 L883.9,671.1 L887.9,667.6 L891.9,664.0 L895.9,660.5 L899.9,656.9 L903.9,653.4 L907.9,649.9 L911.9,646.4 L915.9,642.9 L919.9,639.4 L923.9,635.9 L927.9,632.4 L931.9,628.9 L935.9,625.4 L939.9,621.9 L943.9,618.5 L947.9,615.0 L951.9,611.5 L955.9,608.1 L959.9,604.6 L963.9,601.2 L967.9,597.7 L971.9,594.3 L975.9,590.9 L979.9,587.4 L983.9,584.0 L987.9,580.5 L991.9,577.1 L995.9,573.7 L999.9,570.3 L1003.9,566.9 L1007.9,563.4 L1011.9,560.0 L1015.9,556.6 L1019.9,553.2 L1023.9,549.8 L1027.9,546.4 L1031.9,543.0 L1035.9,539.6 L1039.9,536.2 L1043.9,532.8 L1047.9,529.4 L1051.9,526.0 L1055.9,522.6 L1059.9,519.2 L1063.9,515.8 L1067.9,512.4 L1071.9,509.1 L1075.9,505.7 L1079.9,502.3 L1083.9,498.9 L1087.9,495.5 L1091.9,492.2 L1095.9,488.8 L1099.9,485.4 L1103.9,482.0 L1107.9,478.7 L1111.9,475.3 L1115.9,471.9 L1119.9,468.6 L1123.9,465.2 L1127.9,461.9 L1131.9,458.5 L1135.9,455.1 L1139.9,451.8 L1143.9,448.4 L1147.9,445.1 L1151.9,441.7 L1155.9,438.4 L1159.9,435.0 L1163.9,431.7 L1167.9,428.3 L1171.9,425.0 L1175.9,421.7 L1179.9,418.3 L1183.9,415.0 L1187.9,411.6 L1191.9,408.3 L1195.9,405.0 L1199.9,401.7 L1203.9,398.3 L1207.9,395.0 L1211.9,391.7 L1215.9,388.3 L1219.9,385.0 L1223.9,381.7 L1227.9,378.4 L1231.9,375.1 L1235.9,371.8 L1239.9,368.4 L1243.9,365.1 L1247.9,361.8 L1251.9,358.5 L1255.9,355.2 L1259.9,351.9 L1263.9,348.6 L1267.9,345.3 L1271.9,342.0 L1275.9,338.7 L1279.9,335.5 L1283.9,332.2 L1287.9,328.9 L1291.9,325.6 L1295.9,322.3 L1299.9,319.0 L1303.9,315.8 L1307.9,312.5 L1311.9,309.2 L1315.9,306.0 L1319.9,302.7 L1323.9,299.4 L1327.9,296.2 L1331.9,292.9 L1335.9,289.7 L1339.9,286.4 L1343.9,283.2 L1347.9,279.9 L1351.9,276.7 L1355.9,273.4 L1359.9,270.2 L1363.9,267.0 L1367.9,263.7 L1371.9,260.5 L1375.9,257.3 L1379.9,254.1 L1383.9,250.8 L1387.9,247.6 L1391.9,244.4 L1395.9,241.2 L1399.9,238.0 L1403.9,234.8 L1407.9,231.6 L1411.9,228.3 L1415.9,225.1 L1419.9,221.9 L1423.9,218.7 L1427.9,215.5 L1431.9,212.3 L1435.9,209.2 L1439.9,206.0 L1443.9,202.8 L1447.9,199.6 L1451.9,196.4 L1455.9,193.2 L1459.9,190.0 L1463.9,186.9 L1467.9,183.7 L1471.9,180.5 L1475.9,177.3 L1479.9,174.2 L1483.9,171.0 L1487.9,167.8 L1491.9,164.6 L1495.9,161.5 L1499.9,158.3 L1503.9,155.1 L1507.9,152.0 L1511.9,148.8 L1515.9,145.6 L1519.9,142.5 L1523.9,139.3 L1527.9,136.2 L1531.9,133.0 L1535.9,129.8 L1539.9,126.7 L1543.9,123.5 L1547.9,120.3 L1551.9,117.2 L1555.9,114.0 L1559.9,110.9 L1563.9,107.7 L1567.9,104.5 L1571.9,101.4 L1575.9,98.2 L1579.9,95.1 L1583.9,91.9 L1587.9,88.7 L1591.9,85.6 L1595.9,82.4 L1599.9,79.3 L1603.9,76.1 L1607.9,72.9 L1611.9,69.8 L1615.9,66.6 L1617.4,65.4 M797.7,806.5 L801.7,802.7 L805.7,799.0 L809.7,795.2 L813.7,791.5 L817.7,787.8 L821.7,784.1 L825.7,780.4 L829.7,776.7 L833.7,773.0 L837.7,769.4 L841.7,765.7 L845.7,762.1 L849.7,758.5 L853.7,754.9 L857.7,751.3 L861.7,747.7 L865.7,744.1 L869.7,740.5 L873.7,736.9 L877.7,733.3 L881.7,729.8 L885.7,726.2 L889.7,722.7 L893.7,719.1 L897.7,715.6 L901.7,712.1 L905.7,708.6 L909.7,705.0 L913.7,701.5 L917.7,698.0 L921.7,694.5 L925.7,691.0 L929.7,687.5 L933.7,684.1 L937.7,680.6 L941.7,677.1 L945.7,673.6 L949.7,670.2 L953.7,666.7 L957.7,663.3 L961.7,659.8 L965.7,656.4 L969.7,652.9 L973.7,649.5 L977.7,646.0 L981.7,642.6 L985.7,639.2 L989.7,635.7 L993.7,632.3 L997.7,628.9 L1001.7,625.5 L1005.7,622.0 L1009.7,618.6 L1013.7,615.2 L1017.7,611.8 L1021.7,608.4 L1025.7,605.0 L1029.7,601.6 L1033.7,598.2 L1037.7,594.8 L1041.7,591.4 L1045.7,588.0 L1049.7,584.6 L1053.7,581.2 L1057.7,577.8 L1061.7,574.4 L1065.7,571.0 L1069.7,567.6 L1073.7,564.3 L1077.7,560.9 L1081.7,557.5 L1085.7,554.1 L1089.7,550.7 L1093.7,547.4 L1097.7,544.0 L1101.7,540.6 L1105.7,537.3 L1109.7,533.9 L1113.7,530.5 L1117.7,527.2 L1121.7,523.8 L1125.7,520.4 L1129.7,517.1 L1133.7,513.7 L1137.7,510.4 L1141.7,507.0 L1145.7,503.7 L1149.7,500.3 L1153.7,497.0 L1157.7,493.6 L1161.7,490.3 L1165.7,486.9 L1169.7,483.6 L1173.7,480.2 L1177.7,476.9 L1181.7,473.5 L1185.7,470.2 L1189.7,466.9 L1193.7,463.5 L1197.7,460.2 L1201.7,456.9 L1205.7,453.6 L1209.7,450.2 L1213.7,446.9 L1217.7,443.6 L1221.7,440.3 L1225.7,436.9 L1229.7,433.6 L1233.7,430.3 L1237.7,427.0 L1241.7,423.7 L1245.7,420.4 L1249.7,417.1 L1253.7,413.8 L1257.7,410.5 L1261.7,407.2 L1265.7,403.9 L1269.7,400.6 L1273.7,397.3 L1277.7,394.0 L1281.7,390.7 L1285.7,387.4 L1289.7,384.1 L1293.7,380.9 L1297.7,377.6 L1301.7,374.3 L1305.7,371.0 L1309.7,367.8 L1313.7,364.5 L1317.7,361.2 L1321.7,358.0 L1325.7,354.7 L1329.7,351.4 L1333.7,348.2 L1337.7,344.9 L1341.7,341.7 L1345.7,338.4 L1349.7,335.2 L1353.7,332.0 L1357.7,328.7 L1361.7,325.5 L1365.7,322.3 L1369.7,319.0 L1373.7,315.8 L1377.7,312.6 L1381.7,309.3 L1385.7,306.1 L1389.7,302.9 L1393.7,299.7 L1397.7,296.5 L1401.7,293.3 L1405.7,290.0 L1409.7,286.8 L1413.7,283.6 L1417.7,280.4 L1421.7,277.2 L1425.7,274.0 L1429.7,270.8 L1433.7,267.6 L1437.7,264.5 L1441.7,261.3 L1445.7,258.1 L1449.7,254.9 L1453.7,251.7 L1457.7,248.5 L1461.7,245.3 L1465.7,242.2 L1469.7,239.0 L1473.7,235.8 L1477.7,232.6 L1481.7,229.5 L1485.7,226.3 L1489.7,223.1 L1493.7,219.9 L1497.7,216.8 L1501.7,213.6 L1505.7,210.4 L1509.7,207.3 L1513.7,204.1 L1517.7,200.9 L1521.7,197.8 L1525.7,194.6 L1529.7,191.5 L1533.7,188.3 L1537.7,185.1 L1541.7,182.0 L1545.7,178.8 L1549.7,175.7 L1553.7,172.5 L1557.7,169.3 L1561.7,166.2 L1565.7,163.0 L1569.7,159.9 L1573.7,156.7 L1577.7,153.5 L1581.7,150.4 L1585.7,147.2 L1589.7,144.1 L1593.7,140.9 L1597.7,137.7 L1601.7,134.6 L1605.7,131.4 L1609.7,128.3 L1613.7,125.1 L1617.7,121.9 L1621.7,118.8 L1625.7,115.6 L1629.7,112.5 L1633.7,109.3 L1637.7,106.1 L1641.7,103.0 L1645.7,99.8 L1649.7,96.7 L1653.7,93.5 L1657.7,90.3 L1661.7,87.2 L1665.7,84.0 L1669.7,80.9 L1673.7,77.7 L1677.7,74.5 L1681.7,71.4 L1685.7,68.2 L1689.7,65.1 L1690.7,64.3 M863.6,799.6 L867.6,796.0 L871.6,792.4 L875.6,788.9 L879.6,785.3 L883.6,781.7 L887.6,778.2 L891.6,774.6 L895.6,771.1 L899.6,767.6 L903.6,764.0 L907.6,760.5 L911.6,757.0 L915.6,753.5 L919.6,750.0 L923.6,746.5 L927.6,743.0 L931.6,739.5 L935.6,736.0 L939.6,732.6 L943.6,729.1 L947.6,725.6 L951.6,722.2 L955.6,718.7 L959.6,715.3 L963.6,711.8 L967.6,708.4 L971.6,704.9 L975.6,701.5 L979.6,698.0 L983.6,694.6 L987.6,691.2 L991.6,687.7 L995.6,684.3 L999.6,680.9 L1003.6,677.5 L1007.6,674.1 L1011.6,670.6 L1015.6,667.2 L1019.6,663.8 L1023.6,660.4 L1027.6,657.0 L1031.6,653.6 L1035.6,650.2 L1039.6,646.8 L1043.6,643.4 L1047.6,640.0 L1051.6,636.6 L1055.6,633.2 L1059.6,629.8 L1063.6,626.4 L1067.6,623.1 L1071.6,619.7 L1075.6,616.3 L1079.6,612.9 L1083.6,609.5 L1087.6,606.2 L1091.6,602.8 L1095.6,599.4 L1099.6,596.0 L1103.6,592.7 L1107.6,589.3 L1111.6,585.9 L1115.6,582.6 L1119.6,579.2 L1123.6,575.8 L1127.6,572.5 L1131.6,569.1 L1135.6,565.8 L1139.6,562.4 L1143.6,559.1 L1147.6,555.7 L1151.6,552.3 L1155.6,549.0 L1159.6,545.7 L1163.6,542.3 L1167.6,539.0 L1171.6,535.6 L1175.6,532.3 L1179.6,528.9 L1183.6,525.6 L1187.6,522.3 L1191.6,518.9 L1195.6,515.6 L1199.6,512.3 L1203.6,508.9 L1207.6,505.6 L1211.6,502.3 L1215.6,499.0 L1219.6,495.6 L1223.6,492.3 L1227.6,489.0 L1231.6,485.7 L1235.6,482.4 L1239.6,479.1 L1243.6,475.7 L1247.6,472.4 L1251.6,469.1 L1255.6,465.8 L1259.6,462.5 L1263.6,459.2 L1267.6,455.9 L1271.6,452.6 L1275.6,449.4 L1279.6,446.1 L1283.6,442.8 L1287.6,439.5 L1291.6,436.2 L1295.6,432.9 L1299.6,429.7 L1303.6,426.4 L1307.6,423.1 L1311.6,419.8 L1315.6,416.6 L1319.6,413.3 L1323.6,410.1 L1327.6,406.8 L1331.6,403.5 L1335.6,400.3 L1339.6,397.0 L1343.6,393.8 L1347.6,390.5 L1351.6,387.3 L1355.6,384.1 L1359.6,380.8 L1363.6,377.6 L1367.6,374.4 L1371.6,371.1 L1375.6,367.9 L1379.6,364.7 L1383.6,361.4 L1387.6,358.2 L1391.6,355.0 L1395.6,351.8 L1399.6,348.6 L1403.6,345.4 L1407.6,342.2 L1411.6,339.0 L1415.6,335.7 L1419.6,332.5 L1423.6,329.3 L1427.6,326.2 L1431.6,323.0 L1435.6,319.8 L1439.6,316.6 L1443.6,313.4 L1447.6,310.2 L1451.6,307.0 L1455.6,303.8 L1459.6,300.6 L1463.6,297.5 L1467.6,294.3 L1471.6,291.1 L1475.6,287.9 L1479.6,284.8 L1483.6,281.6 L1487.6,278.4 L1491.6,275.2 L1495.6,272.1 L1499.6,268.9 L1503.6,265.7 L1507.6,262.6 L1511.6,259.4 L1515.6,256.2 L1519.6,253.1 L1523.6,249.9 L1527.6,246.8 L1531.6,243.6 L1535.6,240.4 L1539.6,237.3 L1543.6,234.1 L1547.6,231.0 L1551.6,227.8 L1555.6,224.6 L1559.6,221.5 L1563.6,218.3 L1567.6,215.2 L1571.6,212.0 L1575.6,208.8 L1579.6,205.7 L1583.6,202.5 L1587.6,199.4 L1591.6,196.2 L1595.6,193.0 L1599.6,189.9 L1603.6,186.7 L1607.6,183.6 L1611.6,180.4 L1615.6,177.2 L1619.6,174.1 L1623.6,170.9 L1627.6,167.8 L1631.6,164.6 L1635.6,161.4 L1639.6,158.3 L1643.6,155.1 L1647.6,152.0 L1651.6,148.8 L1655.6,145.6 L1659.6,142.5 L1663.6,139.3 L1667.6,136.2 L1671.6,133.0 L1675.6,129.8 L1679.6,126.7 L1683.6,123.5 L1687.6,120.3 L1691.6,117.2 L1695.6,114.0 L1699.6,110.9 L1703.6,107.7 L1707.6,104.5 L1711.6,101.4 L1715.6,98.2 L1719.6,95.1 L1723.6,91.9 L1727.6,88.7 L1731.6,85.6 L1735.6,82.4 L1739.6,79.2 L1743.6,76.1 L1747.6,72.9 L1751.6,69.8 L1755.6,66.6 L1759.1,63.8 M929.5,793.7 L933.5,790.2 L937.5,786.8 L941.5,783.3 L945.5,779.8 L949.5,776.4 L953.5,772.9 L957.5,769.4 L961.5,766.0 L965.5,762.5 L969.5,759.1 L973.5,755.6 L977.5,752.2 L981.5,748.8 L985.5,745.3 L989.5,741.9 L993.5,738.5 L997.5,735.1 L1001.5,731.6 L1005.5,728.2 L1009.5,724.8 L1013.5,721.4 L1017.5,718.0 L1021.5,714.6 L1025.5,711.1 L1029.5,707.7 L1033.5,704.3 L1037.5,700.9 L1041.5,697.5 L1045.5,694.1 L1049.5,690.8 L1053.5,687.4 L1057.5,684.0 L1061.5,680.6 L1065.5,677.2 L1069.5,673.8 L1073.5,670.4 L1077.5,667.0 L1081.5,663.7 L1085.5,660.3 L1089.5,656.9 L1093.5,653.5 L1097.5,650.2 L1101.5,646.8 L1105.5,643.4 L1109.5,640.1 L1113.5,636.7 L1117.5,633.3 L1121.5,630.0 L1125.5,626.6 L1129.5,623.2 L1133.5,619.9 L1137.5,616.5 L1141.5,613.2 L1145.5,609.8 L1149.5,606.5 L1153.5,603.1 L1157.5,599.8 L1161.5,596.4 L1165.5,593.1 L1169.5,589.7 L1173.5,586.4 L1177.5,583.1 L1181.5,579.7 L1185.5,576.4 L1189.5,573.0 L1193.5,569.7 L1197.5,566.4 L1201.5,563.0 L1205.5,559.7 L1209.5,556.4 L1213.5,553.1 L1217.5,549.7 L1221.5,546.4 L1225.5,543.1 L1229.5,539.8 L1233.5,536.5 L1237.5,533.2 L1241.5,529.8 L1245.5,526.5 L1249.5,523.2 L1253.5,519.9 L1257.5,516.6 L1261.5,513.3 L1265.5,510.0 L1269.5,506.7 L1273.5,503.4 L1277.5,500.2 L1281.5,496.9 L1285.5,493.6 L1289.5,490.3 L1293.5,487.0 L1297.5,483.7 L1301.5,480.5 L1305.5,477.2 L1309.5,473.9 L1313.5,470.7 L1317.5,467.4 L1321.5,464.1 L1325.5,460.9 L1329.5,457.6 L1333.5,454.4 L1337.5,451.1 L1341.5,447.9 L1345.5,444.6 L1349.5,441.4 L1353.5,438.1 L1357.5,434.9 L1361.5,431.6 L1365.5,428.4 L1369.5,425.2 L1373.5,422.0 L1377.5,418.7 L1381.5,415.5 L1385.5,412.3 L1389.5,409.1 L1393.5,405.8 L1397.5,402.6 L1401.5,399.4 L1405.5,396.2 L1409.5,393.0 L1413.5,389.8 L1417.5,386.6 L1421.5,383.4 L1425.5,380.2 L1429.5,377.0 L1433.5,373.8 L1437.5,370.6 L1441.5,367.4 L1445.5,364.2 L1449.5,361.0 L1453.5,357.9 L1457.5,354.7 L1461.5,351.5 L1465.5,348.3 L1469.5,345.1 L1473.5,342.0 L1477.5,338.8 L1481.5,335.6 L1485.5,332.4 L1489.5,329.3 L1493.5,326.1 L1497.5,322.9 L1501.5,319.8 L1505.5,316.6 L1509.5,313.4 L1513.5,310.3 L1517.5,307.1 L1521.5,303.9 L1525.5,300.8 L1529.5,297.6 L1533.5,294.5 L1537.5,291.3 L1541.5,288.1 L1545.5,285.0 L1549.5,281.8 L1553.5,278.7 L1557.5,275.5 L1561.5,272.3 L1565.5,269.2 L1569.5,266.0 L1573.5,262.9 L1577.5,259.7 L1581.5,256.5 L1585.5,253.4 L1589.5,250.2 L1593.5,247.1 L1597.5,243.9 L1601.5,240.7 L1605.5,237.6 L1609.5,234.4 L1613.5,231.3 L1617.5,228.1 L1621.5,224.9 L1625.5,221.8 L1629.5,218.6 L1633.5,215.5 L1637.5,212.3 L1641.5,209.1 L1645.5,206.0 L1649.5,202.8 L1653.5,199.7 L1657.5,196.5 L1661.5,193.3 L1665.5,190.2 L1669.5,187.0 L1673.5,183.9 L1677.5,180.7 L1681.5,177.5 L1685.5,174.4 L1689.5,171.2 L1693.5,168.0 L1697.5,164.9 L1701.5,161.7 L1705.5,158.6 L1709.5,155.4 L1713.5,152.2 L1717.5,149.1 L1721.5,145.9 L1725.5,142.8 L1729.5,139.6 L1733.5,136.4 L1737.5,133.3 L1741.5,130.1 L1745.5,126.9 L1749.5,123.8 L1753.5,120.6 L1757.5,117.5 L1761.5,114.3 L1765.5,111.1 L1769.5,108.0 L1773.5,104.8 L1777.5,101.6 L1781.5,98.5 L1785.5,95.3 L1789.5,92.1 L1793.5,89.0 L1797.5,85.8 L1801.5,82.7 L1805.5,79.5 L1809.5,76.3 L1813.5,73.2 L1817.5,70.0 L1821.5,66.8 L1825.5,63.7 L1826.0,63.3 M995.4,789.8 L999.4,786.4 L1003.4,783.0 L1007.4,779.6 L1011.4,776.2 L1015.4,772.8 L1019.4,769.3 L1023.4,765.9 L1027.4,762.5 L1031.4,759.1 L1035.4,755.7 L1039.4,752.3 L1043.4,748.9 L1047.4,745.5 L1051.4,742.1 L1055.4,738.7 L1059.4,735.4 L1063.4,732.0 L1067.4,728.6 L1071.4,725.2 L1075.4,721.8 L1079.4,718.4 L1083.4,715.1 L1087.4,711.7 L1091.4,708.3 L1095.4,704.9 L1099.4,701.6 L1103.4,698.2 L1107.4,694.8 L1111.4,691.5 L1115.4,688.1 L1119.4,684.7 L1123.4,681.4 L1127.4,678.0 L1131.4,674.6 L1135.4,671.3 L1139.4,667.9 L1143.4,664.6 L1147.4,661.2 L1151.4,657.9 L1155.4,654.5 L1159.4,651.2 L1163.4,647.8 L1167.4,644.5 L1171.4,641.1 L1175.4,637.8 L1179.4,634.5 L1183.4,631.1 L1187.4,627.8 L1191.4,624.5 L1195.4,621.1 L1199.4,617.8 L1203.4,614.5 L1207.4,611.1 L1211.4,607.8 L1215.4,604.5 L1219.4,601.2 L1223.4,597.8 L1227.4,594.5 L1231.4,591.2 L1235.4,587.9 L1239.4,584.6 L1243.4,581.3 L1247.4,578.0 L1251.4,574.7 L1255.4,571.4 L1259.4,568.1 L1263.4,564.8 L1267.4,561.5 L1271.4,558.2 L1275.4,554.9 L1279.4,551.6 L1283.4,548.3 L1287.4,545.0 L1291.4,541.7 L1295.4,538.5 L1299.4,535.2 L1303.4,531.9 L1307.4,528.6 L1311.4,525.4 L1315.4,522.1 L1319.4,518.8 L1323.4,515.6 L1327.4,512.3 L1331.4,509.1 L1335.4,505.8 L1339.4,502.6 L1343.4,499.3 L1347.4,496.1 L1351.4,492.8 L1355.4,489.6 L1359.4,486.3 L1363.4,483.1 L1367.4,479.9 L1371.4,476.6 L1375.4,473.4 L1379.4,470.2 L1383.4,467.0 L1387.4,463.7 L1391.4,460.5 L1395.4,457.3 L1399.4,454.1 L1403.4,450.9 L1407.4,447.7 L1411.4,444.5 L1415.4,441.3 L1419.4,438.1 L1423.4,434.9 L1427.4,431.7 L1431.4,428.5 L1435.4,425.3 L1439.4,422.1 L1443.4,418.9 L1447.4,415.7 L1451.4,412.5 L1455.4,409.3 L1459.4,406.2 L1463.4,403.0 L1467.4,399.8 L1471.4,396.6 L1475.4,393.4 L1479.4,390.3 L1483.4,387.1 L1487.4,383.9 L1491.4,380.8 L1495.4,377.6 L1499.4,374.4 L1503.4,371.3 L1507.4,368.1 L1511.4,364.9 L1515.4,361.8 L1519.4,358.6 L1523.4,355.4 L1527.4,352.3 L1531.4,349.1 L1535.4,345.9 L1539.4,342.8 L1543.4,339.6 L1547.4,336.5 L1551.4,333.3 L1555.4,330.1 L1559.4,327.0 L1563.4,323.8 L1567.4,320.7 L1571.4,317.5 L1575.4,314.3 L1579.4,311.2 L1583.4,308.0 L1587.4,304.9 L1591.4,301.7 L1595.4,298.5 L1599.4,295.4 L1603.4,292.2 L1607.4,289.1 L1611.4,285.9 L1615.4,282.7 L1619.4,279.6 L1623.4,276.4 L1627.4,273.3 L1631.4,270.1 L1635.4,266.9 L1639.4,263.8 L1643.4,260.6 L1647.4,257.5 L1651.4,254.3 L1655.4,251.1 L1659.4,248.0 L1663.4,244.8 L1667.4,241.7 L1671.4,238.5 L1675.4,235.3 L1679.4,232.2 L1683.4,229.0 L1687.4,225.9 L1691.4,222.7 L1695.4,219.5 L1699.4,216.4 L1703.4,213.2 L1707.4,210.1 L1711.4,206.9 L1715.4,203.7 L1719.4,200.6 L1723.4,197.4 L1727.4,194.2 L1731.4,191.1 L1735.4,187.9 L1739.4,184.8 L1743.4,181.6 L1747.4,178.4 L1751.4,175.3 L1755.4,172.1 L1759.4,168.9 L1763.4,165.8 L1767.4,162.6 L1771.4,159.5 L1775.4,156.3 L1779.4,153.1 L1783.4,150.0 L1787.4,146.8 L1791.4,143.6 L1795.4,140.5 L1799.4,137.3 L1803.4,134.1 L1807.4,131.0 L1811.4,127.8 L1815.4,124.6 L1819.4,121.5 L1823.4,118.3 L1827.4,115.1 L1831.4,112.0 L1835.4,108.8 L1839.4,105.6 L1843.4,102.5 L1847.4,99.3 L1851.4,96.1 L1855.4,93.0 L1859.4,89.8 L1863.4,86.6 L1867.4,83.5 L1871.4,80.3 L1875.4,77.1 L1879.4,73.9 L1883.4,70.8 L1887.4,67.6 L1891.4,64.4 L1893.4,62.8 M1061.3,786.8 L1065.3,783.4 L1069.3,780.0 L1073.3,776.7 L1077.3,773.3 L1081.3,769.9 L1085.3,766.5 L1089.3,763.1 L1093.3,759.8 L1097.3,756.4 L1101.3,753.0 L1105.3,749.7 L1109.3,746.3 L1113.3,742.9 L1117.3,739.6 L1121.3,736.2 L1125.3,732.8 L1129.3,729.5 L1133.3,726.1 L1137.3,722.8 L1141.3,719.4 L1145.3,716.1 L1149.3,712.7 L1153.3,709.4 L1157.3,706.0 L1161.3,702.7 L1165.3,699.3 L1169.3,696.0 L1173.3,692.6 L1177.3,689.3 L1181.3,685.9 L1185.3,682.6 L1189.3,679.3 L1193.3,675.9 L1197.3,672.6 L1201.3,669.3 L1205.3,665.9 L1209.3,662.6 L1213.3,659.3 L1217.3,656.0 L1221.3,652.7 L1225.3,649.3 L1229.3,646.0 L1233.3,642.7 L1237.3,639.4 L1241.3,636.1 L1245.3,632.8 L1249.3,629.5 L1253.3,626.2 L1257.3,622.9 L1261.3,619.6 L1265.3,616.3 L1269.3,613.0 L1273.3,609.7 L1277.3,606.4 L1281.3,603.1 L1285.3,599.8 L1289.3,596.5 L1293.3,593.2 L1297.3,590.0 L1301.3,586.7 L1305.3,583.4 L1309.3,580.1 L1313.3,576.9 L1317.3,573.6 L1321.3,570.4 L1325.3,567.1 L1329.3,563.8 L1333.3,560.6 L1337.3,557.3 L1341.3,554.1 L1345.3,550.8 L1349.3,547.6 L1353.3,544.3 L1357.3,541.1 L1361.3,537.9 L1365.3,534.6 L1369.3,531.4 L1373.3,528.2 L1377.3,524.9 L1381.3,521.7 L1385.3,518.5 L1389.3,515.3 L1393.3,512.1 L1397.3,508.8 L1401.3,505.6 L1405.3,502.4 L1409.3,499.2 L1413.3,496.0 L1417.3,492.8 L1421.3,489.6 L1425.3,486.4 L1429.3,483.2 L1433.3,480.0 L1437.3,476.8 L1441.3,473.6 L1445.3,470.4 L1449.3,467.3 L1453.3,464.1 L1457.3,460.9 L1461.3,457.7 L1465.3,454.5 L1469.3,451.4 L1473.3,448.2 L1477.3,445.0 L1481.3,441.8 L1485.3,438.7 L1489.3,435.5 L1493.3,432.3 L1497.3,429.2 L1501.3,426.0 L1505.3,422.8 L1509.3,419.7 L1513.3,416.5 L1517.3,413.3 L1521.3,410.2 L1525.3,407.0 L1529.3,403.8 L1533.3,400.7 L1537.3,397.5 L1541.3,394.4 L1545.3,391.2 L1549.3,388.0 L1553.3,384.9 L1557.3,381.7 L1561.3,378.6 L1565.3,375.4 L1569.3,372.2 L1573.3,369.1 L1577.3,365.9 L1581.3,362.8 L1585.3,359.6 L1589.3,356.4 L1593.3,353.3 L1597.3,350.1 L1601.3,347.0 L1605.3,343.8 L1609.3,340.6 L1613.3,337.5 L1617.3,334.3 L1621.3,331.2 L1625.3,328.0 L1629.3,324.8 L1633.3,321.7 L1637.3,318.5 L1641.3,315.4 L1645.3,312.2 L1649.3,309.0 L1653.3,305.9 L1657.3,302.7 L1661.3,299.6 L1665.3,296.4 L1669.3,293.2 L1673.3,290.1 L1677.3,286.9 L1681.3,283.7 L1685.3,280.6 L1689.3,277.4 L1693.3,274.3 L1697.3,271.1 L1701.3,267.9 L1705.3,264.8 L1709.3,261.6 L1713.3,258.5 L1717.3,255.3 L1721.3,252.1 L1725.3,249.0 L1729.3,245.8 L1733.3,242.7 L1737.3,239.5 L1741.3,236.3 L1745.3,233.2 L1749.3,230.0 L1753.3,226.8 L1757.3,223.7 L1761.3,220.5 L1765.3,217.4 L1769.3,214.2 L1773.3,211.0 L1777.3,207.9 L1781.3,204.7 L1785.3,201.5 L1789.3,198.4 L1793.3,195.2 L1797.3,192.0 L1801.3,188.9 L1805.3,185.7 L1809.3,182.5 L1813.3,179.4 L1817.3,176.2 L1821.3,173.0 L1825.3,169.9 L1829.3,166.7 L1833.3,163.5 L1837.3,160.4 L1841.3,157.2 L1845.3,154.0 L1849.3,150.9 L1853.3,147.7 L1857.3,144.5 L1861.3,141.4 L1865.3,138.2 L1869.3,135.0 L1873.3,131.9 L1877.3,128.7 L1881.3,125.5 L1885.3,122.3 L1889.3,119.2 L1893.3,116.0 L1897.3,112.8 L1901.3,109.6 L1905.3,106.5 L1909.3,103.3 L1913.3,100.1 L1917.3,96.9 L1921.3,93.8 L1925.3,90.6 L1929.3,87.4 L1933.3,84.2 L1937.3,81.1 L1941.3,77.9 L1945.3,74.7 L1949.3,71.5 L1953.3,68.3 L1957.3,65.1 L1960.8,62.4 M1127.1,783.8 L1131.1,780.5 L1135.1,777.1 L1139.1,773.8 L1143.1,770.4 L1147.1,767.1 L1151.1,763.7 L1155.1,760.4 L1159.1,757.0 L1163.1,753.7 L1167.1,750.3 L1171.1,747.0 L1175.1,743.6 L1179.1,740.3 L1183.1,737.0 L1187.1,733.6 L1191.1,730.3 L1195.1,727.0 L1199.1,723.6 L1203.1,720.3 L1207.1,717.0 L1211.1,713.6 L1215.1,710.3 L1219.1,707.0 L1223.1,703.7 L1227.1,700.4 L1231.1,697.0 L1235.1,693.7 L1239.1,690.4 L1243.1,687.1 L1247.1,683.8 L1251.1,680.5 L1255.1,677.2 L1259.1,673.9 L1263.1,670.6 L1267.1,667.3 L1271.1,664.0 L1275.1,660.7 L1279.1,657.4 L1283.1,654.1 L1287.1,650.8 L1291.1,647.6 L1295.1,644.3 L1299.1,641.0 L1303.1,637.7 L1307.1,634.5 L1311.1,631.2 L1315.1,627.9 L1319.1,624.7 L1323.1,621.4 L1327.1,618.1 L1331.1,614.9 L1335.1,611.6 L1339.1,608.4 L1343.1,605.1 L1347.1,601.9 L1351.1,598.6 L1355.1,595.4 L1359.1,592.2 L1363.1,588.9 L1367.1,585.7 L1371.1,582.5 L1375.1,579.2 L1379.1,576.0 L1383.1,572.8 L1387.1,569.6 L1391.1,566.4 L1395.1,563.1 L1399.1,559.9 L1403.1,556.7 L1407.1,553.5 L1411.1,550.3 L1415.1,547.1 L1419.1,543.9 L1423.1,540.7 L1427.1,537.5 L1431.1,534.3 L1435.1,531.1 L1439.1,527.9 L1443.1,524.7 L1447.1,521.5 L1451.1,518.3 L1455.1,515.2 L1459.1,512.0 L1463.1,508.8 L1467.1,505.6 L1471.1,502.4 L1475.1,499.3 L1479.1,496.1 L1483.1,492.9 L1487.1,489.8 L1491.1,486.6 L1495.1,483.4 L1499.1,480.2 L1503.1,477.1 L1507.1,473.9 L1511.1,470.7 L1515.1,467.6 L1519.1,464.4 L1523.1,461.3 L1527.1,458.1 L1531.1,454.9 L1535.1,451.8 L1539.1,448.6 L1543.1,445.5 L1547.1,442.3 L1551.1,439.1 L1555.1,436.0 L1559.1,432.8 L1563.1,429.7 L1567.1,426.5 L1571.1,423.3 L1575.1,420.2 L1579.1,417.0 L1583.1,413.9 L1587.1,410.7 L1591.1,407.5 L1595.1,404.4 L1599.1,401.2 L1603.1,398.1 L1607.1,394.9 L1611.1,391.7 L1615.1,388.6 L1619.1,385.4 L1623.1,382.3 L1627.1,379.1 L1631.1,375.9 L1635.1,372.8 L1639.1,369.6 L1643.1,366.5 L1647.1,363.3 L1651.1,360.1 L1655.1,357.0 L1659.1,353.8 L1663.1,350.6 L1667.1,347.5 L1671.1,344.3 L1675.1,341.2 L1679.1,338.0 L1683.1,334.8 L1687.1,331.7 L1691.1,328.5 L1695.1,325.4 L1699.1,322.2 L1703.1,319.0 L1707.1,315.9 L1711.1,312.7 L1715.1,309.6 L1719.1,306.4 L1723.1,303.2 L1727.1,300.1 L1731.1,296.9 L1735.1,293.7 L1739.1,290.6 L1743.1,287.4 L1747.1,284.3 L1751.1,281.1 L1755.1,277.9 L1759.1,274.8 L1763.1,271.6 L1767.1,268.4 L1771.1,265.3 L1775.1,262.1 L1779.1,259.0 L1783.1,255.8 L1787.1,252.6 L1791.1,249.5 L1795.1,246.3 L1799.1,243.1 L1803.1,240.0 L1807.1,236.8 L1811.1,233.6 L1815.1,230.5 L1819.1,227.3 L1823.1,224.1 L1827.1,221.0 L1831.1,217.8 L1835.1,214.6 L1839.1,211.5 L1843.1,208.3 L1847.1,205.1 L1851.1,202.0 L1855.1,198.8 L1859.1,195.6 L1863.1,192.5 L1867.1,189.3 L1871.1,186.1 L1875.1,182.9 L1879.1,179.8 L1883.1,176.6 L1887.1,173.4 L1891.1,170.3 L1895.1,167.1 L1899.1,163.9 L1903.1,160.7 L1907.1,157.6 L1911.1,154.4 L1915.1,151.2 L1919.1,148.0 L1923.1,144.9 L1927.1,141.7 L1931.1,138.5 L1935.1,135.3 L1939.1,132.1 L1943.1,129.0 L1947.1,125.8 L1951.1,122.6 L1955.1,119.4 L1959.1,116.2 L1963.1,113.1 L1967.1,109.9 L1971.1,106.7 L1975.1,103.5 L1979.1,100.3 L1983.1,97.1 L1987.1,93.9 L1991.1,90.8 L1995.1,87.6 L1999.1,84.4 L2003.1,81.2 L2007.1,78.0 L2011.1,74.8 L2015.1,71.6 L2019.1,68.4 L2023.1,65.2 L2027.1,62.0 L2027.1,62.0 M1193.0,781.5 L1197.0,778.2 L1201.0,774.8 L1205.0,771.5 L1209.0,768.2 L1213.0,764.9 L1217.0,761.5 L1221.0,758.2 L1225.0,754.9 L1229.0,751.6 L1233.0,748.3 L1237.0,745.0 L1241.0,741.6 L1245.0,738.3 L1249.0,735.0 L1253.0,731.7 L1257.0,728.4 L1261.0,725.1 L1265.0,721.8 L1269.0,718.5 L1273.0,715.2 L1277.0,711.9 L1281.0,708.7 L1285.0,705.4 L1289.0,702.1 L1293.0,698.8 L1297.0,695.5 L1301.0,692.3 L1305.0,689.0 L1309.0,685.7 L1313.0,682.4 L1317.0,679.2 L1321.0,675.9 L1325.0,672.7 L1329.0,669.4 L1333.0,666.1 L1337.0,662.9 L1341.0,659.6 L1345.0,656.4 L1349.0,653.2 L1353.0,649.9 L1357.0,646.7 L1361.0,643.4 L1365.0,640.2 L1369.0,637.0 L1373.0,633.7 L1377.0,630.5 L1381.0,627.3 L1385.0,624.1 L1389.0,620.8 L1393.0,617.6 L1397.0,614.4 L1401.0,611.2 L1405.0,608.0 L1409.0,604.8 L1413.0,601.6 L1417.0,598.4 L1421.0,595.2 L1425.0,592.0 L1429.0,588.8 L1433.0,585.6 L1437.0,582.4 L1441.0,579.2 L1445.0,576.0 L1449.0,572.8 L1453.0,569.6 L1457.0,566.5 L1461.0,563.3 L1465.0,560.1 L1469.0,556.9 L1473.0,553.7 L1477.0,550.6 L1481.0,547.4 L1485.0,544.2 L1489.0,541.0 L1493.0,537.9 L1497.0,534.7 L1501.0,531.5 L1505.0,528.4 L1509.0,525.2 L1513.0,522.0 L1517.0,518.9 L1521.0,515.7 L1525.0,512.6 L1529.0,509.4 L1533.0,506.2 L1537.0,503.1 L1541.0,499.9 L1545.0,496.8 L1549.0,493.6 L1553.0,490.4 L1557.0,487.3 L1561.0,484.1 L1565.0,481.0 L1569.0,477.8 L1573.0,474.6 L1577.0,471.5 L1581.0,468.3 L1585.0,465.2 L1589.0,462.0 L1593.0,458.8 L1597.0,455.7 L1601.0,452.5 L1605.0,449.4 L1609.0,446.2 L1613.0,443.0 L1617.0,439.9 L1621.0,436.7 L1625.0,433.6 L1629.0,430.4 L1633.0,427.2 L1637.0,424.1 L1641.0,420.9 L1645.0,417.8 L1649.0,414.6 L1653.0,411.4 L1657.0,408.3 L1661.0,405.1 L1665.0,402.0 L1669.0,398.8 L1673.0,395.6 L1677.0,392.5 L1681.0,389.3 L1685.0,386.1 L1689.0,383.0 L1693.0,379.8 L1697.0,376.7 L1701.0,373.5 L1705.0,370.3 L1709.0,367.2 L1713.0,364.0 L1717.0,360.9 L1721.0,357.7 L1725.0,354.5 L1729.0,351.4 L1733.0,348.2 L1737.0,345.1 L1741.0,341.9 L1745.0,338.7 L1749.0,335.6 L1753.0,332.4 L1757.0,329.2 L1761.0,326.1 L1765.0,322.9 L1769.0,319.7 L1773.0,316.6 L1777.0,313.4 L1781.0,310.3 L1785.0,307.1 L1789.0,303.9 L1793.0,300.8 L1797.0,297.6 L1801.0,294.4 L1805.0,291.3 L1809.0,288.1 L1813.0,284.9 L1817.0,281.8 L1821.0,278.6 L1825.0,275.4 L1829.0,272.3 L1833.0,269.1 L1837.0,265.9 L1841.0,262.8 L1845.0,259.6 L1849.0,256.4 L1853.0,253.3 L1857.0,250.1 L1861.0,246.9 L1865.0,243.8 L1869.0,240.6 L1873.0,237.4 L1877.0,234.2 L1881.0,231.1 L1885.0,227.9 L1889.0,224.7 L1893.0,221.6 L1897.0,218.4 L1901.0,215.2 L1905.0,212.0 L1909.0,208.9 L1913.0,205.7 L1917.0,202.5 L1921.0,199.3 L1925.0,196.1 L1929.0,193.0 L1933.0,189.8 L1937.0,186.6 L1941.0,183.4 L1945.0,180.3 L1949.0,177.1 L1953.0,173.9 L1957.0,170.7 L1961.0,167.5 L1965.0,164.3 L1969.0,161.2 L1973.0,158.0 L1977.0,154.8 L1981.0,151.6 L1985.0,148.4 L1989.0,145.2 L1993.0,142.0 L1997.0,138.9 L2001.0,135.7 L2005.0,132.5 L2009.0,129.3 L2013.0,126.1 L2017.0,122.9 L2021.0,119.7 L2025.0,116.5 L2029.0,113.3 L2033.0,110.1 L2037.0,106.9 L2041.0,103.7 L2045.0,100.5 M1258.9,779.8 L1262.9,776.5 L1266.9,773.2 L1270.9,769.9 L1274.9,766.6 L1278.9,763.4 L1282.9,760.1 L1286.9,756.8 L1290.9,753.5 L1294.9,750.2 L1298.9,746.9 L1302.9,743.7 L1306.9,740.4 L1310.9,737.1 L1314.9,733.9 L1318.9,730.6 L1322.9,727.3 L1326.9,724.1 L1330.9,720.8 L1334.9,717.6 L1338.9,714.3 L1342.9,711.1 L1346.9,707.8 L1350.9,704.6 L1354.9,701.3 L1358.9,698.1 L1362.9,694.9 L1366.9,691.6 L1370.9,688.4 L1374.9,685.2 L1378.9,681.9 L1382.9,678.7 L1386.9,675.5 L1390.9,672.3 L1394.9,669.1 L1398.9,665.9 L1402.9,662.6 L1406.9,659.4 L1410.9,656.2 L1414.9,653.0 L1418.9,649.8 L1422.9,646.6 L1426.9,643.4 L1430.9,640.2 L1434.9,637.0 L1438.9,633.8 L1442.9,630.6 L1446.9,627.5 L1450.9,624.3 L1454.9,621.1 L1458.9,617.9 L1462.9,614.7 L1466.9,611.5 L1470.9,608.4 L1474.9,605.2 L1478.9,602.0 L1482.9,598.8 L1486.9,595.7 L1490.9,592.5 L1494.9,589.3 L1498.9,586.2 L1502.9,583.0 L1506.9,579.8 L1510.9,576.7 L1514.9,573.5 L1518.9,570.3 L1522.9,567.2 L1526.9,564.0 L1530.9,560.9 L1534.9,557.7 L1538.9,554.5 L1542.9,551.4 L1546.9,548.2 L1550.9,545.1 L1554.9,541.9 L1558.9,538.7 L1562.9,535.6 L1566.9,532.4 L1570.9,529.3 L1574.9,526.1 L1578.9,522.9 L1582.9,519.8 L1586.9,516.6 L1590.9,513.5 L1594.9,510.3 L1598.9,507.1 L1602.9,504.0 L1606.9,500.8 L1610.9,497.7 L1614.9,494.5 L1618.9,491.3 L1622.9,488.2 L1626.9,485.0 L1630.9,481.9 L1634.9,478.7 L1638.9,475.5 L1642.9,472.4 L1646.9,469.2 L1650.9,466.1 L1654.9,462.9 L1658.9,459.7 L1662.9,456.6 L1666.9,453.4 L1670.9,450.3 L1674.9,447.1 L1678.9,443.9 L1682.9,440.8 L1686.9,437.6 L1690.9,434.5 L1694.9,431.3 L1698.9,428.1 L1702.9,425.0 L1706.9,421.8 L1710.9,418.6 L1714.9,415.5 L1718.9,412.3 L1722.9,409.2 L1726.9,406.0 L1730.9,402.8 L1734.9,399.7 L1738.9,396.5 L1742.9,393.4 L1746.9,390.2 L1750.9,387.0 L1754.9,383.9 L1758.9,380.7 L1762.9,377.5 L1766.9,374.4 L1770.9,371.2 L1774.9,368.0 L1778.9,364.9 L1782.9,361.7 L1786.9,358.6 L1790.9,355.4 L1794.9,352.2 L1798.9,349.1 L1802.9,345.9 L1806.9,342.7 L1810.9,339.6 L1814.9,336.4 L1818.9,333.2 L1822.9,330.1 L1826.9,326.9 L1830.9,323.7 L1834.9,320.6 L1838.9,317.4 L1842.9,314.2 L1846.9,311.1 L1850.9,307.9 L1854.9,304.7 L1858.9,301.6 L1862.9,298.4 L1866.9,295.2 L1870.9,292.0 L1874.9,288.9 L1878.9,285.7 L1882.9,282.5 L1886.9,279.4 L1890.9,276.2 L1894.9,273.0 L1898.9,269.8 L1902.9,266.7 L1906.9,263.5 L1910.9,260.3 L1914.9,257.1 L1918.9,254.0 L1922.9,250.8 L1926.9,247.6 L1930.9,244.4 L1934.9,241.2 L1938.9,238.1 L1942.9,234.9 L1946.9,231.7 L1950.9,228.5 L1954.9,225.3 L1958.9,222.2 L1962.9,219.0 L1966.9,215.8 L1970.9,212.6 L1974.9,209.4 L1978.9,206.2 L1982.9,203.1 L1986.9,199.9 L1990.9,196.7 L1994.9,193.5 L1998.9,190.3 L2002.9,187.1 L2006.9,183.9 L2010.9,180.7 L2014.9,177.5 L2018.9,174.3 L2022.9,171.1 L2026.9,168.0 L2030.9,164.8 L2034.9,161.6 L2038.9,158.4 L2042.9,155.2 L2046.9,152.0 M1324.7,778.7 L1328.7,775.4 L1332.7,772.2 L1336.7,768.9 L1340.7,765.7 L1344.7,762.4 L1348.7,759.2 L1352.7,755.9 L1356.7,752.7 L1360.7,749.5 L1364.7,746.2 L1368.7,743.0 L1372.7,739.8 L1376.7,736.5 L1380.7,733.3 L1384.7,730.1 L1388.7,726.9 L1392.7,723.7 L1396.7,720.4 L1400.7,717.2 L1404.7,714.0 L1408.7,710.8 L1412.7,707.6 L1416.7,704.4 L1420.7,701.2 L1424.7,698.0 L1428.7,694.8 L1432.7,691.6 L1436.7,688.4 L1440.7,685.2 L1444.7,682.0 L1448.7,678.9 L1452.7,675.7 L1456.7,672.5 L1460.7,669.3 L1464.7,666.1 L1468.7,662.9 L1472.7,659.8 L1476.7,656.6 L1480.7,653.4 L1484.7,650.3 L1488.7,647.1 L1492.7,643.9 L1496.7,640.7 L1500.7,637.6 L1504.7,634.4 L1508.7,631.2 L1512.7,628.1 L1516.7,624.9 L1520.7,621.8 L1524.7,618.6 L1528.7,615.4 L1532.7,612.3 L1536.7,609.1 L1540.7,605.9 L1544.7,602.8 L1548.7,599.6 L1552.7,596.5 L1556.7,593.3 L1560.7,590.1 L1564.7,587.0 L1568.7,583.8 L1572.7,580.7 L1576.7,577.5 L1580.7,574.3 L1584.7,571.2 L1588.7,568.0 L1592.7,564.9 L1596.7,561.7 L1600.7,558.5 L1604.7,555.4 L1608.7,552.2 L1612.7,549.1 L1616.7,545.9 L1620.7,542.7 L1624.7,539.6 L1628.7,536.4 L1632.7,533.3 L1636.7,530.1 L1640.7,526.9 L1644.7,523.8 L1648.7,520.6 L1652.7,517.5 L1656.7,514.3 L1660.7,511.1 L1664.7,508.0 L1668.7,504.8 L1672.7,501.7 L1676.7,498.5 L1680.7,495.3 L1684.7,492.2 L1688.7,489.0 L1692.7,485.9 L1696.7,482.7 L1700.7,479.5 L1704.7,476.4 L1708.7,473.2 L1712.7,470.1 L1716.7,466.9 L1720.7,463.7 L1724.7,460.6 L1728.7,457.4 L1732.7,454.2 L1736.7,451.1 L1740.7,447.9 L1744.7,444.8 L1748.7,441.6 L1752.7,438.4 L1756.7,435.3 L1760.7,432.1 L1764.7,428.9 L1768.7,425.8 L1772.7,422.6 L1776.7,419.5 L1780.7,416.3 L1784.7,413.1 L1788.7,410.0 L1792.7,406.8 L1796.7,403.6 L1800.7,400.5 L1804.7,397.3 L1808.7,394.1 L1812.7,391.0 L1816.7,387.8 L1820.7,384.6 L1824.7,381.5 L1828.7,378.3 L1832.7,375.1 L1836.7,372.0 L1840.7,368.8 L1844.7,365.6 L1848.7,362.5 L1852.7,359.3 L1856.7,356.1 L1860.7,353.0 L1864.7,349.8 L1868.7,346.6 L1872.7,343.4 L1876.7,340.3 L1880.7,337.1 L1884.7,333.9 L1888.7,330.8 L1892.7,327.6 L1896.7,324.4 L1900.7,321.2 L1904.7,318.1 L1908.7,314.9 L1912.7,311.7 L1916.7,308.5 L1920.7,305.4 L1924.7,302.2 L1928.7,299.0 L1932.7,295.8 L1936.7,292.6 L1940.7,289.5 L1944.7,286.3 L1948.7,283.1 L1952.7,279.9 L1956.7,276.7 L1960.7,273.6 L1964.7,270.4 L1968.7,267.2 L1972.7,264.0 L1976.7,260.8 L1980.7,257.6 L1984.7,254.4 L1988.7,251.3 L1992.7,248.1 L1996.7,244.9 L2000.7,241.7 L2004.7,238.5 L2008.7,235.3 L2012.7,232.1 L2016.7,228.9 L2020.7,225.7 L2024.7,222.5 L2028.7,219.3 L2032.7,216.1 L2036.7,212.9 L2040.7,209.7 L2044.7,206.5 M1390.6,777.9 L1394.6,774.7 L1398.6,771.5 L1402.6,768.2 L1406.6,765.0 L1410.6,761.8 L1414.6,758.6 L1418.6,755.4 L1422.6,752.2 L1426.6,749.0 L1430.6,745.8 L1434.6,742.6 L1438.6,739.4 L1442.6,736.2 L1446.6,733.1 L1450.6,729.9 L1454.6,726.7 L1458.6,723.5 L1462.6,720.3 L1466.6,717.1 L1470.6,714.0 L1474.6,710.8 L1478.6,707.6 L1482.6,704.4 L1486.6,701.3 L1490.6,698.1 L1494.6,694.9 L1498.6,691.8 L1502.6,688.6 L1506.6,685.4 L1510.6,682.3 L1514.6,679.1 L1518.6,675.9 L1522.6,672.8 L1526.6,669.6 L1530.6,666.5 L1534.6,663.3 L1538.6,660.1 L1542.6,657.0 L1546.6,653.8 L1550.6,650.7 L1554.6,647.5 L1558.6,644.3 L1562.6,641.2 L1566.6,638.0 L1570.6,634.9 L1574.6,631.7 L1578.6,628.5 L1582.6,625.4 L1586.6,622.2 L1590.6,619.1 L1594.6,615.9 L1598.6,612.7 L1602.6,609.6 L1606.6,606.4 L1610.6,603.3 L1614.6,600.1 L1618.6,596.9 L1622.6,593.8 L1626.6,590.6 L1630.6,587.5 L1634.6,584.3 L1638.6,581.1 L1642.6,578.0 L1646.6,574.8 L1650.6,571.7 L1654.6,568.5 L1658.6,565.3 L1662.6,562.2 L1666.6,559.0 L1670.6,555.9 L1674.6,552.7 L1678.6,549.5 L1682.6,546.4 L1686.6,543.2 L1690.6,540.0 L1694.6,536.9 L1698.6,533.7 L1702.6,530.6 L1706.6,527.4 L1710.6,524.2 L1714.6,521.1 L1718.6,517.9 L1722.6,514.8 L1726.6,511.6 L1730.6,508.4 L1734.6,505.3 L1738.6,502.1 L1742.6,498.9 L1746.6,495.8 L1750.6,492.6 L1754.6,489.5 L1758.6,486.3 L1762.6,483.1 L1766.6,480.0 L1770.6,476.8 L1774.6,473.6 L1778.6,470.5 L1782.6,467.3 L1786.6,464.2 L1790.6,461.0 L1794.6,457.8 L1798.6,454.7 L1802.6,451.5 L1806.6,448.3 L1810.6,445.2 L1814.6,442.0 L1818.6,438.8 L1822.6,435.7 L1826.6,432.5 L1830.6,429.3 L1834.6,426.2 L1838.6,423.0 L1842.6,419.8 L1846.6,416.7 L1850.6,413.5 L1854.6,410.3 L1858.6,407.2 L1862.6,404.0 L1866.6,400.8 L1870.6,397.6 L1874.6,394.5 L1878.6,391.3 L1882.6,388.1 L1886.6,385.0 L1890.6,381.8 L1894.6,378.6 L1898.6,375.4 L1902.6,372.3 L1906.6,369.1 L1910.6,365.9 L1914.6,362.7 L1918.6,359.6 L1922.6,356.4 L1926.6,353.2 L1930.6,350.0 L1934.6,346.8 L1938.6,343.7 L1942.6,340.5 L1946.6,337.3 L1950.6,334.1 L1954.6,330.9 L1958.6,327.8 L1962.6,324.6 L1966.6,321.4 L1970.6,318.2 L1974.6,315.0 L1978.6,311.8 L1982.6,308.7 L1986.6,305.5 L1990.6,302.3 L1994.6,299.1 L1998.6,295.9 L2002.6,292.7 L2006.6,289.5 L2010.6,286.3 L2014.6,283.1 L2018.6,279.9 L2022.6,276.7 L2026.6,273.6 L2030.6,270.4 L2034.6,267.2 L2038.6,264.0 L2042.6,260.8 L2046.6,257.6 M1456.5,777.1 L1460.5,774.0 L1464.5,770.8 L1468.5,767.6 L1472.5,764.4 L1476.5,761.2 L1480.5,758.1 L1484.5,754.9 L1488.5,751.7 L1492.5,748.6 L1496.5,745.4 L1500.5,742.2 L1504.5,739.1 L1508.5,735.9 L1512.5,732.7 L1516.5,729.6 L1520.5,726.4 L1524.5,723.2 L1528.5,720.1 L1532.5,716.9 L1536.5,713.7 L1540.5,710.6 L1544.5,707.4 L1548.5,704.3 L1552.5,701.1 L1556.5,697.9 L1560.5,694.8 L1564.5,691.6 L1568.5,688.5 L1572.5,685.3 L1576.5,682.1 L1580.5,679.0 L1584.5,675.8 L1588.5,672.7 L1592.5,669.5 L1596.5,666.3 L1600.5,663.2 L1604.5,660.0 L1608.5,656.9 L1612.5,653.7 L1616.5,650.5 L1620.5,647.4 L1624.5,644.2 L1628.5,641.1 L1632.5,637.9 L1636.5,634.7 L1640.5,631.6 L1644.5,628.4 L1648.5,625.3 L1652.5,622.1 L1656.5,618.9 L1660.5,615.8 L1664.5,612.6 L1668.5,609.5 L1672.5,606.3 L1676.5,603.1 L1680.5,600.0 L1684.5,596.8 L1688.5,593.7 L1692.5,590.5 L1696.5,587.3 L1700.5,584.2 L1704.5,581.0 L1708.5,577.9 L1712.5,574.7 L1716.5,571.5 L1720.5,568.4 L1724.5,565.2 L1728.5,562.0 L1732.5,558.9 L1736.5,555.7 L1740.5,552.6 L1744.5,549.4 L1748.5,546.2 L1752.5,543.1 L1756.5,539.9 L1760.5,536.7 L1764.5,533.6 L1768.5,530.4 L1772.5,527.3 L1776.5,524.1 L1780.5,520.9 L1784.5,517.8 L1788.5,514.6 L1792.5,511.4 L1796.5,508.3 L1800.5,505.1 L1804.5,501.9 L1808.5,498.8 L1812.5,495.6 L1816.5,492.4 L1820.5,489.3 L1824.5,486.1 L1828.5,482.9 L1832.5,479.8 L1836.5,476.6 L1840.5,473.4 L1844.5,470.3 L1848.5,467.1 L1852.5,463.9 L1856.5,460.8 L1860.5,457.6 L1864.5,454.4 L1868.5,451.3 L1872.5,448.1 L1876.5,444.9 L1880.5,441.7 L1884.5,438.6 L1888.5,435.4 L1892.5,432.2 L1896.5,429.1 L1900.5,425.9 L1904.5,422.7 L1908.5,419.5 L1912.5,416.4 L1916.5,413.2 L1920.5,410.0 L1924.5,406.8 L1928.5,403.6 L1932.5,400.5 L1936.5,397.3 L1940.5,394.1 L1944.5,390.9 L1948.5,387.7 L1952.5,384.6 L1956.5,381.4 L1960.5,378.2 L1964.5,375.0 L1968.5,371.8 L1972.5,368.7 L1976.5,365.5 L1980.5,362.3 L1984.5,359.1 L1988.5,355.9 L1992.5,352.7 L1996.5,349.5 L2000.5,346.3 L2004.5,343.1 L2008.5,340.0 L2012.5,336.8 L2016.5,333.6 L2020.5,330.4 L2024.5,327.2 L2028.5,324.0 L2032.5,320.8 L2036.5,317.6 L2040.5,314.4 L2044.5,311.2 M1522.3,776.5 L1526.3,773.3 L1530.3,770.2 L1534.3,767.0 L1538.3,763.8 L1542.3,760.7 L1546.3,757.5 L1550.3,754.4 L1554.3,751.2 L1558.3,748.0 L1562.3,744.9 L1566.3,741.7 L1570.3,738.6 L1574.3,735.4 L1578.3,732.2 L1582.3,729.1 L1586.3,725.9 L1590.3,722.8 L1594.3,719.6 L1598.3,716.4 L1602.3,713.3 L1606.3,710.1 L1610.3,707.0 L1614.3,703.8 L1618.3,700.6 L1622.3,697.5 L1626.3,694.3 L1630.3,691.2 L1634.3,688.0 L1638.3,684.8 L1642.3,681.7 L1646.3,678.5 L1650.3,675.4 L1654.3,672.2 L1658.3,669.0 L1662.3,665.9 L1666.3,662.7 L1670.3,659.6 L1674.3,656.4 L1678.3,653.2 L1682.3,650.1 L1686.3,646.9 L1690.3,643.8 L1694.3,640.6 L1698.3,637.4 L1702.3,634.3 L1706.3,631.1 L1710.3,628.0 L1714.3,624.8 L1718.3,621.6 L1722.3,618.5 L1726.3,615.3 L1730.3,612.1 L1734.3,609.0 L1738.3,605.8 L1742.3,602.7 L1746.3,599.5 L1750.3,596.3 L1754.3,593.2 L1758.3,590.0 L1762.3,586.8 L1766.3,583.7 L1770.3,580.5 L1774.3,577.4 L1778.3,574.2 L1782.3,571.0 L1786.3,567.9 L1790.3,564.7 L1794.3,561.5 L1798.3,558.4 L1802.3,555.2 L1806.3,552.0 L1810.3,548.9 L1814.3,545.7 L1818.3,542.5 L1822.3,539.4 L1826.3,536.2 L1830.3,533.0 L1834.3,529.9 L1838.3,526.7 L1842.3,523.5 L1846.3,520.4 L1850.3,517.2 L1854.3,514.0 L1858.3,510.9 L1862.3,507.7 L1866.3,504.5 L1870.3,501.4 L1874.3,498.2 L1878.3,495.0 L1882.3,491.8 L1886.3,488.7 L1890.3,485.5 L1894.3,482.3 L1898.3,479.1 L1902.3,476.0 L1906.3,472.8 L1910.3,469.6 L1914.3,466.4 L1918.3,463.3 L1922.3,460.1 L1926.3,456.9 L1930.3,453.7 L1934.3,450.6 L1938.3,447.4 L1942.3,444.2 L1946.3,441.0 L1950.3,437.8 L1954.3,434.7 L1958.3,431.5 L1962.3,428.3 L1966.3,425.1 L1970.3,421.9 L1974.3,418.7 L1978.3,415.6 L1982.3,412.4 L1986.3,409.2 L1990.3,406.0 L1994.3,402.8 L1998.3,399.6 L2002.3,396.4 L2006.3,393.2 L2010.3,390.0 L2014.3,386.9 L2018.3,383.7 L2022.3,380.5 L2026.3,377.3 L2030.3,374.1 L2034.3,370.9 L2038.3,367.7 L2042.3,364.5 L2046.3,361.3 M1588.2,776.0 L1592.2,772.8 L1596.2,769.7 L1600.2,766.5 L1604.2,763.4 L1608.2,760.2 L1612.2,757.0 L1616.2,753.9 L1620.2,750.7 L1624.2,747.6 L1628.2,744.4 L1632.2,741.2 L1636.2,738.1 L1640.2,734.9 L1644.2,731.8 L1648.2,728.6 L1652.2,725.4 L1656.2,722.3 L1660.2,719.1 L1664.2,716.0 L1668.2,712.8 L1672.2,709.6 L1676.2,706.5 L1680.2,703.3 L1684.2,700.2 L1688.2,697.0 L1692.2,693.8 L1696.2,690.7 L1700.2,687.5 L1704.2,684.4 L1708.2,681.2 L1712.2,678.0 L1716.2,674.9 L1720.2,671.7 L1724.2,668.5 L1728.2,665.4 L1732.2,662.2 L1736.2,659.1 L1740.2,655.9 L1744.2,652.7 L1748.2,649.6 L1752.2,646.4 L1756.2,643.2 L1760.2,640.1 L1764.2,636.9 L1768.2,633.8 L1772.2,630.6 L1776.2,627.4 L1780.2,624.3 L1784.2,621.1 L1788.2,617.9 L1792.2,614.8 L1796.2,611.6 L1800.2,608.4 L1804.2,605.3 L1808.2,602.1 L1812.2,598.9 L1816.2,595.8 L1820.2,592.6 L1824.2,589.4 L1828.2,586.3 L1832.2,583.1 L1836.2,579.9 L1840.2,576.8 L1844.2,573.6 L1848.2,570.4 L1852.2,567.3 L1856.2,564.1 L1860.2,560.9 L1864.2,557.8 L1868.2,554.6 L1872.2,551.4 L1876.2,548.2 L1880.2,545.1 L1884.2,541.9 L1888.2,538.7 L1892.2,535.6 L1896.2,532.4 L1900.2,529.2 L1904.2,526.0 L1908.2,522.9 L1912.2,519.7 L1916.2,516.5 L1920.2,513.3 L1924.2,510.2 L1928.2,507.0 L1932.2,503.8 L1936.2,500.6 L1940.2,497.4 L1944.2,494.3 L1948.2,491.1 L1952.2,487.9 L1956.2,484.7 L1960.2,481.5 L1964.2,478.4 L1968.2,475.2 L1972.2,472.0 L1976.2,468.8 L1980.2,465.6 L1984.2,462.4 L1988.2,459.2 L1992.2,456.1 L1996.2,452.9 L2000.2,449.7 L2004.2,446.5 L2008.2,443.3 L2012.2,440.1 L2016.2,436.9 L2020.2,433.7 L2024.2,430.5 L2028.2,427.3 L2032.2,424.1 L2036.2,420.9 L2040.2,417.7 L2044.2,414.5 M1654.1,775.6 L1658.1,772.5 L1662.1,769.3 L1666.1,766.2 L1670.1,763.0 L1674.1,759.8 L1678.1,756.7 L1682.1,753.5 L1686.1,750.4 L1690.1,747.2 L1694.1,744.0 L1698.1,740.9 L1702.1,737.7 L1706.1,734.6 L1710.1,731.4 L1714.1,728.2 L1718.1,725.1 L1722.1,721.9 L1726.1,718.7 L1730.1,715.6 L1734.1,712.4 L1738.1,709.3 L1742.1,706.1 L1746.1,702.9 L1750.1,699.8 L1754.1,696.6 L1758.1,693.4 L1762.1,690.3 L1766.1,687.1 L1770.1,684.0 L1774.1,680.8 L1778.1,677.6 L1782.1,674.5 L1786.1,671.3 L1790.1,668.1 L1794.1,665.0 L1798.1,661.8 L1802.1,658.6 L1806.1,655.5 L1810.1,652.3 L1814.1,649.1 L1818.1,646.0 L1822.1,642.8 L1826.1,639.6 L1830.1,636.5 L1834.1,633.3 L1838.1,630.1 L1842.1,627.0 L1846.1,623.8 L1850.1,620.6 L1854.1,617.5 L1858.1,614.3 L1862.1,611.1 L1866.1,608.0 L1870.1,604.8 L1874.1,601.6 L1878.1,598.5 L1882.1,595.3 L1886.1,592.1 L1890.1,588.9 L1894.1,585.8 L1898.1,582.6 L1902.1,579.4 L1906.1,576.2 L1910.1,573.1 L1914.1,569.9 L1918.1,566.7 L1922.1,563.5 L1926.1,560.4 L1930.1,557.2 L1934.1,554.0 L1938.1,550.8 L1942.1,547.6 L1946.1,544.5 L1950.1,541.3 L1954.1,538.1 L1958.1,534.9 L1962.1,531.7 L1966.1,528.6 L1970.1,525.4 L1974.1,522.2 L1978.1,519.0 L1982.1,515.8 L1986.1,512.6 L1990.1,509.4 L1994.1,506.2 L1998.1,503.1 L2002.1,499.9 L2006.1,496.7 L2010.1,493.5 L2014.1,490.3 L2018.1,487.1 L2022.1,483.9 L2026.1,480.7 L2030.1,477.5 L2034.1,474.3 L2038.1,471.1 L2042.1,467.9 L2046.1,464.7 M1719.9,775.4 L1723.9,772.2 L1727.9,769.1 L1731.9,765.9 L1735.9,762.7 L1739.9,759.6 L1743.9,756.4 L1747.9,753.3 L1751.9,750.1 L1755.9,746.9 L1759.9,743.8 L1763.9,740.6 L1767.9,737.4 L1771.9,734.3 L1775.9,731.1 L1779.9,728.0 L1783.9,724.8 L1787.9,721.6 L1791.9,718.5 L1795.9,715.3 L1799.9,712.1 L1803.9,709.0 L1807.9,705.8 L1811.9,702.6 L1815.9,699.5 L1819.9,696.3 L1823.9,693.1 L1827.9,690.0 L1831.9,686.8 L1835.9,683.6 L1839.9,680.5 L1843.9,677.3 L1847.9,674.1 L1851.9,671.0 L1855.9,667.8 L1859.9,664.6 L1863.9,661.5 L1867.9,658.3 L1871.9,655.1 L1875.9,651.9 L1879.9,648.8 L1883.9,645.6 L1887.9,642.4 L1891.9,639.3 L1895.9,636.1 L1899.9,632.9 L1903.9,629.7 L1907.9,626.6 L1911.9,623.4 L1915.9,620.2 L1919.9,617.0 L1923.9,613.9 L1927.9,610.7 L1931.9,607.5 L1935.9,604.3 L1939.9,601.1 L1943.9,598.0 L1947.9,594.8 L1951.9,591.6 L1955.9,588.4 L1959.9,585.2 L1963.9,582.0 L1967.9,578.9 L1971.9,575.7 L1975.9,572.5 L1979.9,569.3 L1983.9,566.1 L1987.9,562.9 L1991.9,559.7 L1995.9,556.6 L1999.9,553.4 L2003.9,550.2 L2007.9,547.0 L2011.9,543.8 L2015.9,540.6 L2019.9,537.4 L2023.9,534.2 L2027.9,531.0 L2031.9,527.8 L2035.9,524.6 L2039.9,521.4 L2043.9,518.2 L2047.9,515.0 M1785.8,775.2 L1789.8,772.1 L1793.8,768.9 L1797.8,765.7 L1801.8,762.6 L1805.8,759.4 L1809.8,756.2 L1813.8,753.1 L1817.8,749.9 L1821.8,746.7 L1825.8,743.6 L1829.8,740.4 L1833.8,737.2 L1837.8,734.1 L1841.8,730.9 L1845.8,727.7 L1849.8,724.6 L1853.8,721.4 L1857.8,718.2 L1861.8,715.0 L1865.8,711.9 L1869.8,708.7 L1873.8,705.5 L1877.8,702.4 L1881.8,699.2 L1885.8,696.0 L1889.8,692.8 L1893.8,689.7 L1897.8,686.5 L1901.8,683.3 L1905.8,680.1 L1909.8,677.0 L1913.8,673.8 L1917.8,670.6 L1921.8,667.4 L1925.8,664.3 L1929.8,661.1 L1933.8,657.9 L1937.8,654.7 L1941.8,651.6 L1945.8,648.4 L1949.8,645.2 L1953.8,642.0 L1957.8,638.8 L1961.8,635.6 L1965.8,632.5 L1969.8,629.3 L1973.8,626.1 L1977.8,622.9 L1981.8,619.7 L1985.8,616.5 L1989.8,613.3 L1993.8,610.2 L1997.8,607.0 L2001.8,603.8 L2005.8,600.6 L2009.8,597.4 L2013.8,594.2 L2017.8,591.0 L2021.8,587.8 L2025.8,584.6 L2029.8,581.4 L2033.8,578.2 L2037.8,575.0 L2041.8,571.8 L2045.8,568.6 M1851.7,775.1 L1855.7,771.9 L1859.7,768.7 L1863.7,765.6 L1867.7,762.4 L1871.7,759.2 L1875.7,756.0 L1879.7,752.9 L1883.7,749.7 L1887.7,746.5 L1891.7,743.4 L1895.7,740.2 L1899.7,737.0 L1903.7,733.8 L1907.7,730.7 L1911.7,727.5 L1915.7,724.3 L1919.7,721.1 L1923.7,718.0 L1927.7,714.8 L1931.7,711.6 L1935.7,708.4 L1939.7,705.2 L1943.7,702.1 L1947.7,698.9 L1951.7,695.7 L1955.7,692.5 L1959.7,689.3 L1963.7,686.2 L1967.7,683.0 L1971.7,679.8 L1975.7,676.6 L1979.7,673.4 L1983.7,670.2 L1987.7,667.0 L1991.7,663.9 L1995.7,660.7 L1999.7,657.5 L2003.7,654.3 L2007.7,651.1 L2011.7,647.9 L2015.7,644.7 L2019.7,641.5 L2023.7,638.3 L2027.7,635.1 L2031.7,631.9 L2035.7,628.7 L2039.7,625.5 L2043.7,622.3 L2047.7,619.1 M1917.5,775.0 L1921.5,771.8 L1925.5,768.6 L1929.5,765.4 L1933.5,762.2 L1937.5,759.1 L1941.5,755.9 L1945.5,752.7 L1949.5,749.5 L1953.5,746.3 L1957.5,743.2 L1961.5,740.0 L1965.5,736.8 L1969.5,733.6 L1973.5,730.4 L1977.5,727.2 L1981.5,724.1 L1985.5,720.9 L1989.5,717.7 L1993.5,714.5 L1997.5,711.3 L2001.5,708.1 L2005.5,704.9 L2009.5,701.7 L2013.5,698.5 L2017.5,695.3 L2021.5,692.2 L2025.5,689.0 L2029.5,685.8 L2033.5,682.6 L2037.5,679.4 L2041.5,676.2 L2045.5,673.0 M1983.4,774.9 L1987.4,771.7 L1991.4,768.5 L1995.4,765.3 L1999.4,762.1 L2003.4,758.9 L2007.4,755.7 L2011.4,752.5 L2015.4,749.3 L2019.4,746.2 L2023.4,743.0 L2027.4,739.8 L2031.4,736.6 L2035.4,733.4 L2039.4,730.2 L2043.4,727.0 L2047.4,723.8" stroke="#000" stroke-width="2.2" stroke-dasharray="30 11" fill="none"/></g>
<path d="M69.9,831.5 L86.4,811.9 L102.9,791.9 L119.5,771.4 L136.0,750.4 L152.5,728.7 L169.1,706.8 L185.6,684.7 L202.1,662.7 L218.7,640.9 L235.2,619.3 L251.7,597.5 L268.3,575.8 L284.8,553.9 L301.3,532.0 L317.9,510.0 L334.4,488.0 L350.9,466.0 L367.5,444.4 L384.0,423.6 L400.5,403.6 L417.1,384.8 L433.6,367.0 L450.1,350.2 L466.6,334.2 L483.1,319.0 L499.6,304.5 L516.2,291.0 L532.7,278.2 L549.2,266.0 L565.7,254.7 L582.2,244.3 L598.7,234.6 L615.2,225.4 L631.7,216.6 L648.1,208.4 L664.6,200.8 L681.1,193.8 L697.6,187.3 L714.1,181.0 L730.6,175.0 L763.6,163.9 L796.5,153.7 L829.5,144.7 L862.4,135.9 L895.4,127.7 L928.4,120.7 L961.3,115.0 L994.2,110.5 L1027.2,106.5 L1060.1,102.7 L1093.1,98.6 L1126.0,95.0 L1159.0,91.7 L1191.9,88.9 L1224.8,86.3 L1257.8,84.4 L1290.7,82.7 L1323.7,81.4 L1356.6,80.2 L1389.5,79.2 L1471.9,76.7 L1554.2,74.7 L1636.5,73.3 L1718.9,72.3 L1801.2,71.6 L1883.5,71.1 L1965.9,70.6 L2048.2,70.3" stroke="#000" stroke-width="2.7" fill="none" stroke-linejoin="round"/>
<path d="M69.8,848.0 L86.3,829.3 L102.9,810.1 L119.4,790.4 L135.9,770.3 L152.5,749.5 L169.0,728.5 L185.5,707.3 L202.1,686.2 L218.6,665.4 L235.1,644.6 L251.6,623.8 L268.2,602.9 L284.7,582.0 L301.2,561.0 L317.8,539.9 L334.3,518.9 L350.8,497.8 L367.4,477.1 L383.9,457.0 L400.4,437.9 L417.0,419.9 L433.5,402.9 L450.0,386.7 L466.5,371.4 L483.0,356.8 L499.5,343.0 L516.0,330.0 L532.5,317.7 L549.0,306.1 L565.5,295.2 L582.0,285.2 L598.5,276.0 L615.0,267.1 L631.5,258.7 L648.0,250.9 L664.5,243.5 L681.0,236.9 L697.5,230.6 L714.0,224.6 L730.4,218.9 L763.4,208.2 L796.4,198.5 L829.3,189.8 L862.3,181.4 L895.3,173.5 L928.2,166.8 L961.2,161.3 L994.1,157.0 L1027.0,153.2 L1060.0,149.5 L1092.9,145.7 L1125.9,142.1 L1158.8,139.1 L1191.8,136.3 L1224.7,133.9 L1257.6,132.0 L1290.6,130.4 L1323.5,129.1 L1356.4,128.0 L1389.4,127.0 L1471.7,124.7 L1554.1,122.7 L1636.4,121.4 L1718.7,120.5 L1801.1,119.8 L1883.4,119.3 L1965.7,118.9 L2048.0,118.5" stroke="#000" stroke-width="2.7" fill="none" stroke-linejoin="round"/>
<path d="M69.8,864.6 L86.3,846.6 L102.8,828.3 L119.3,809.5 L135.9,790.2 L152.4,770.3 L168.9,750.2 L185.4,730.0 L202.0,709.8 L218.5,689.9 L235.0,670.0 L251.6,650.1 L268.1,630.1 L284.6,610.1 L301.2,590.0 L317.7,569.8 L334.2,549.7 L350.7,529.5 L367.3,509.7 L383.8,490.5 L400.3,472.2 L416.8,455.0 L433.4,438.7 L449.9,423.3 L466.4,408.6 L482.9,394.7 L499.4,381.4 L515.9,369.0 L532.4,357.3 L548.9,346.1 L565.4,335.7 L581.9,326.2 L598.4,317.3 L614.9,308.8 L631.4,300.8 L647.9,293.3 L664.4,286.3 L680.9,279.9 L697.3,274.0 L713.8,268.2 L730.3,262.7 L763.3,252.5 L796.2,243.2 L829.2,234.9 L862.1,226.9 L895.1,219.3 L928.1,212.9 L961.0,207.7 L994.0,203.6 L1026.9,199.9 L1059.8,196.4 L1092.8,192.7 L1125.7,189.3 L1158.7,186.4 L1191.6,183.7 L1224.5,181.4 L1257.5,179.6 L1290.4,178.1 L1323.4,176.9 L1356.3,175.8 L1389.2,174.9 L1471.6,172.6 L1553.9,170.8 L1636.2,169.5 L1718.6,168.6 L1800.9,168.0 L1883.2,167.5 L1965.6,167.1 L2047.9,166.8" stroke="#000" stroke-width="2.7" fill="none" stroke-linejoin="round"/>
<path d="M69.7,881.1 L86.2,864.0 L102.7,846.5 L119.3,828.5 L135.8,810.1 L152.3,791.2 L168.8,771.9 L185.4,752.6 L201.9,733.3 L218.4,714.3 L235.0,695.4 L251.5,676.3 L268.0,657.3 L284.5,638.2 L301.1,619.0 L317.6,599.7 L334.1,580.5 L350.6,561.2 L367.2,542.3 L383.7,524.0 L400.2,506.6 L416.7,490.1 L433.2,474.6 L449.8,459.8 L466.3,445.9 L482.8,432.5 L499.3,419.9 L515.8,408.0 L532.3,396.8 L548.8,386.2 L565.3,376.2 L581.8,367.2 L598.3,358.7 L614.8,350.6 L631.3,343.0 L647.7,335.8 L664.2,329.1 L680.7,323.0 L697.2,317.3 L713.7,311.8 L730.2,306.6 L763.1,296.8 L796.1,287.9 L829.0,280.0 L862.0,272.3 L895.0,265.1 L927.9,259.0 L960.9,254.0 L993.8,250.1 L1026.7,246.6 L1059.7,243.2 L1092.6,239.7 L1125.6,236.5 L1158.5,233.7 L1191.5,231.2 L1224.4,229.0 L1257.3,227.3 L1290.3,225.8 L1323.2,224.6 L1356.1,223.6 L1389.1,222.7 L1471.4,220.6 L1553.7,218.8 L1636.1,217.6 L1718.4,216.7 L1800.7,216.1 L1883.1,215.7 L1965.4,215.3 L2047.7,215.0" stroke="#000" stroke-width="2.7" fill="none" stroke-linejoin="round"/>
<path d="M69.7,897.6 L86.2,881.3 L102.7,864.6 L119.2,847.5 L135.7,830.0 L152.3,812.0 L168.8,793.6 L185.3,775.3 L201.8,756.9 L218.4,738.8 L234.9,720.7 L251.4,702.6 L267.9,684.4 L284.4,666.2 L301.0,648.0 L317.5,629.6 L334.0,611.3 L350.5,593.0 L367.1,574.9 L383.6,557.5 L400.1,540.9 L416.6,525.2 L433.1,510.4 L449.6,496.4 L466.2,483.1 L482.7,470.3 L499.2,458.3 L515.7,447.0 L532.2,436.4 L548.7,426.2 L565.2,416.7 L581.7,408.1 L598.1,400.0 L614.6,392.3 L631.1,385.1 L647.6,378.2 L664.1,371.8 L680.6,366.0 L697.1,360.6 L713.5,355.4 L730.0,350.4 L763.0,341.1 L795.9,332.6 L828.9,325.1 L861.9,317.8 L894.8,311.0 L927.8,305.1 L960.7,300.4 L993.7,296.6 L1026.6,293.3 L1059.5,290.1 L1092.5,286.7 L1125.4,283.7 L1158.4,281.0 L1191.3,278.6 L1224.2,276.5 L1257.2,274.9 L1290.1,273.5 L1323.1,272.4 L1356.0,271.4 L1388.9,270.6 L1471.3,268.5 L1553.6,266.9 L1635.9,265.7 L1718.3,264.9 L1800.6,264.3 L1882.9,263.9 L1965.3,263.5 L2047.6,263.3" stroke="#000" stroke-width="5.2" fill="none" stroke-linejoin="round"/>
<path d="M69.6,914.2 L86.1,898.7 L102.6,882.8 L119.1,866.6 L135.7,849.9 L152.2,832.8 L168.7,815.4 L185.2,797.9 L201.8,780.4 L218.3,763.2 L234.8,746.1 L251.3,728.9 L267.8,711.6 L284.4,694.3 L300.9,677.0 L317.4,659.5 L333.9,642.1 L350.4,624.7 L367.0,607.6 L383.5,591.0 L400.0,575.2 L416.5,560.4 L433.0,546.3 L449.5,532.9 L466.0,520.3 L482.5,508.2 L499.0,496.8 L515.5,486.0 L532.0,475.9 L548.5,466.3 L565.0,457.3 L581.5,449.1 L598.0,441.4 L614.5,434.1 L631.0,427.2 L647.5,420.6 L664.0,414.6 L680.4,409.1 L696.9,404.0 L713.4,399.0 L729.9,394.2 L762.9,385.4 L795.8,377.4 L828.8,370.2 L861.7,363.3 L894.7,356.8 L927.6,351.2 L960.6,346.7 L993.5,343.2 L1026.5,340.0 L1059.4,337.0 L1092.3,333.8 L1125.3,330.9 L1158.2,328.3 L1191.2,326.1 L1224.1,324.1 L1257.0,322.5 L1290.0,321.2 L1322.9,320.1 L1355.8,319.2 L1388.8,318.4 L1471.1,316.5 L1553.4,314.9 L1635.8,313.8 L1718.1,313.0 L1800.4,312.5 L1882.8,312.1 L1965.1,311.8 L2047.4,311.5" stroke="#000" stroke-width="2.7" fill="none" stroke-linejoin="round"/>
<path d="M69.5,930.7 L86.1,916.0 L102.6,901.0 L119.1,885.6 L135.6,869.8 L152.1,853.6 L168.6,837.1 L185.2,820.5 L201.7,804.0 L218.2,787.7 L234.7,771.4 L251.2,755.1 L267.7,738.8 L284.3,722.4 L300.8,705.9 L317.3,689.4 L333.8,672.9 L350.3,656.4 L366.9,640.2 L383.4,624.5 L399.9,609.6 L416.4,595.5 L432.9,582.1 L449.4,569.5 L465.9,557.5 L482.4,546.0 L498.9,535.2 L515.4,525.0 L531.9,515.5 L548.4,506.3 L564.9,497.8 L581.4,490.0 L597.9,482.7 L614.4,475.8 L630.9,469.3 L647.3,463.1 L663.8,457.4 L680.3,452.2 L696.8,447.3 L713.3,442.6 L729.8,438.1 L762.7,429.7 L795.7,422.1 L828.6,415.3 L861.6,408.7 L894.5,402.6 L927.5,397.3 L960.4,393.1 L993.4,389.7 L1026.3,386.7 L1059.2,383.8 L1092.2,380.8 L1125.1,378.0 L1158.1,375.6 L1191.0,373.5 L1223.9,371.6 L1256.9,370.1 L1289.8,368.9 L1322.8,367.9 L1355.7,367.0 L1388.6,366.3 L1471.0,364.4 L1553.3,362.9 L1635.6,361.9 L1718.0,361.2 L1800.3,360.7 L1882.6,360.3 L1965.0,360.0 L2047.3,359.8" stroke="#000" stroke-width="2.7" fill="none" stroke-linejoin="round"/>
<path d="M69.5,947.2 L86.0,933.4 L102.5,919.2 L119.0,904.6 L135.5,889.7 L152.1,874.4 L168.6,858.8 L185.1,843.2 L201.6,827.6 L218.1,812.2 L234.6,796.8 L251.1,781.4 L267.7,765.9 L284.2,750.5 L300.7,734.9 L317.2,719.3 L333.7,703.8 L350.2,688.2 L366.8,672.8 L383.3,658.0 L399.8,643.9 L416.3,630.6 L432.8,618.0 L449.3,606.0 L465.8,594.7 L482.3,583.9 L498.8,573.7 L515.3,564.1 L531.8,555.0 L548.3,546.4 L564.8,538.3 L581.3,531.0 L597.7,524.1 L614.2,517.5 L630.7,511.4 L647.2,505.5 L663.7,500.1 L680.2,495.2 L696.7,490.6 L713.1,486.1 L729.6,481.9 L762.6,474.0 L795.5,466.8 L828.5,460.4 L861.4,454.2 L894.4,448.4 L927.3,443.4 L960.3,439.4 L993.2,436.2 L1026.2,433.4 L1059.1,430.7 L1092.0,427.8 L1125.0,425.2 L1157.9,422.9 L1190.9,420.9 L1223.8,419.1 L1256.7,417.8 L1289.7,416.6 L1322.6,415.6 L1355.5,414.8 L1388.5,414.1 L1470.8,412.4 L1553.1,411.0 L1635.5,410.0 L1717.8,409.3 L1800.1,408.9 L1882.5,408.5 L1964.8,408.2 L2047.1,408.0" stroke="#000" stroke-width="2.7" fill="none" stroke-linejoin="round"/>
<path d="M69.4,963.8 L85.9,950.7 L102.5,937.4 L119.0,923.7 L135.5,909.7 L152.0,895.2 L168.5,880.5 L185.0,865.8 L201.5,851.1 L218.0,836.6 L234.6,822.2 L251.1,807.7 L267.6,793.1 L284.1,778.5 L300.6,763.9 L317.1,749.2 L333.6,734.6 L350.1,719.9 L366.7,705.5 L383.2,691.5 L399.7,678.2 L416.2,665.7 L432.7,653.8 L449.2,642.6 L465.7,631.9 L482.2,621.7 L498.7,612.1 L515.2,603.1 L531.7,594.5 L548.2,586.4 L564.6,578.8 L581.1,571.9 L597.6,565.5 L614.1,559.3 L630.6,553.5 L647.1,548.0 L663.6,542.9 L680.0,538.3 L696.5,533.9 L713.0,529.7 L729.5,525.7 L762.4,518.3 L795.4,511.5 L828.3,505.5 L861.3,499.7 L894.2,494.2 L927.2,489.5 L960.1,485.7 L993.1,482.7 L1026.0,480.1 L1058.9,477.5 L1091.9,474.9 L1124.8,472.4 L1157.8,470.3 L1190.7,468.4 L1223.6,466.7 L1256.6,465.4 L1289.5,464.3 L1322.4,463.4 L1355.4,462.6 L1388.3,462.0 L1470.7,460.3 L1553.0,459.0 L1635.3,458.1 L1717.7,457.5 L1800.0,457.0 L1882.3,456.7 L1964.6,456.4 L2047.0,456.2" stroke="#000" stroke-width="2.7" fill="none" stroke-linejoin="round"/>
<path d="M69.4,980.3 L85.9,968.1 L102.4,955.6 L118.9,942.7 L135.4,929.6 L151.9,916.0 L168.4,902.3 L184.9,888.5 L201.5,874.7 L218.0,861.1 L234.5,847.5 L251.0,833.9 L267.5,820.3 L284.0,806.6 L300.5,792.9 L317.0,779.1 L333.5,765.4 L350.0,751.6 L366.5,738.1 L383.1,725.0 L399.6,712.5 L416.1,700.8 L432.6,689.7 L449.1,679.1 L465.6,669.1 L482.1,659.6 L498.6,650.6 L515.0,642.1 L531.5,634.1 L548.0,626.5 L564.5,619.4 L581.0,612.9 L597.5,606.8 L614.0,601.0 L630.5,595.6 L646.9,590.4 L663.4,585.7 L679.9,581.3 L696.4,577.3 L712.9,573.3 L729.3,569.6 L762.3,562.6 L795.2,556.3 L828.2,550.6 L861.1,545.1 L894.1,540.0 L927.0,535.6 L960.0,532.1 L992.9,529.3 L1025.9,526.8 L1058.8,524.4 L1091.7,521.9 L1124.7,519.6 L1157.6,517.6 L1190.6,515.8 L1223.5,514.2 L1256.4,513.0 L1289.4,512.0 L1322.3,511.1 L1355.2,510.4 L1388.2,509.8 L1470.5,508.3 L1552.8,507.1 L1635.2,506.2 L1717.5,505.6 L1799.8,505.2 L1882.2,504.9 L1964.5,504.7 L2046.8,504.5" stroke="#000" stroke-width="2.7" fill="none" stroke-linejoin="round"/>
<path d="M69.1,1073.0 L85.6,1065.3 L102.1,1057.4 L118.6,1049.4 L135.1,1041.1 L151.6,1032.6 L168.0,1024.0 L184.5,1015.3 L201.0,1006.7 L217.5,998.1 L234.0,989.6 L250.5,981.1 L267.0,972.5 L283.5,964.0 L300.0,955.4 L316.5,946.7 L333.0,938.1 L349.5,929.4 L366.0,920.9 L382.5,912.8 L399.0,904.9 L415.4,897.5 L431.9,890.6 L448.4,883.9 L464.9,877.7 L481.4,871.7 L497.9,866.0 L514.4,860.7 L530.8,855.7 L547.3,850.9 L563.8,846.4 L580.3,842.4 L596.8,838.6 L613.2,834.9 L629.7,831.5 L646.2,828.3 L662.7,825.3 L679.1,822.6 L695.6,820.0 L712.1,817.6 L728.6,815.2 L761.5,810.9 L794.4,806.9 L827.4,803.4 L860.3,799.9 L893.3,796.7 L926.2,794.0 L959.2,791.8 L992.1,790.0 L1025.0,788.4 L1058.0,787.0 L1090.9,785.4 L1123.8,784.0 L1156.8,782.7 L1189.7,781.6 L1222.6,780.6 L1255.6,779.9 L1288.5,779.3 L1321.4,778.7 L1354.4,778.3 L1387.3,777.9 L1469.6,777.0 L1552.0,776.3 L1634.3,775.7 L1716.6,775.4 L1799.0,775.2 L1881.3,775.0 L1963.6,774.9 L2046.0,774.8" stroke="#000" stroke-width="5.5" fill="none" stroke-linejoin="round"/>
<path d="M68.6,1230.5 L72.5,66.2" stroke="#000" stroke-width="4" fill="none"/>
<path d="M66.6,1229.5 L2044.5,1231.4" stroke="#000" stroke-width="4" fill="none"/>
<path d="M68.3,72.5 h9 M64.7,1188.2 h9 M64.9,1146.9 h9 M61.9,1126.2 h15 M65.0,1105.5 h9 M65.1,1064.2 h9 M62.3,1022.9 h15 M65.4,981.6 h9 M65.5,940.3 h9 M62.6,919.6 h15 M65.6,898.9 h9 M65.8,857.6 h9 M62.9,816.3 h15 M66.0,775.0 h9 M66.2,733.7 h9 M63.2,713.0 h15 M66.3,692.3 h9 M66.4,651.0 h9 M63.6,609.7 h15 M66.7,568.4 h9 M66.8,527.1 h9 M63.9,506.4 h15 M67.0,485.7 h9 M67.1,444.4 h9 M64.2,403.1 h15 M67.4,361.8 h9 M67.5,320.5 h9 M64.5,299.8 h15 M67.6,279.1 h9 M67.7,237.8 h9 M64.9,196.5 h15 M68.0,155.2 h9 M68.1,113.9 h9 M65.2,93.2 h15 M150.9,1225.6 v8 M233.3,1222.7 v14 M315.6,1225.7 v8 M397.9,1222.8 v14 M480.2,1225.9 v8 M562.6,1223.0 v14 M644.9,1226.1 v8 M727.2,1223.1 v14 M809.6,1226.2 v8 M891.9,1223.3 v14 M974.2,1226.4 v8 M1056.6,1223.4 v14 M1138.9,1226.5 v8 M1221.2,1223.6 v14 M1303.5,1226.7 v8 M1385.9,1223.8 v14 M1468.2,1226.8 v8 M1550.5,1223.9 v14 M1632.9,1227.0 v8 M1715.2,1224.1 v14 M1797.5,1227.2 v8 M1879.9,1224.2 v14 M1962.2,1227.3 v8 M2044.5,1224.4 v14" stroke="#000" stroke-width="2.5" fill="none"/>
<path d="M31.2,24 L2087,26.7 L2083.6,1269.3 L27.4,1268.6 Z" stroke="#000" stroke-width="2.5" fill="none"/>
<rect x="553" y="30" width="1034" height="53" fill="#fff"/>
<text x="558" y="73.3" font-family="Liberation Serif" font-weight="bold" font-size="45" stroke="#000" stroke-width="0.9" textLength="1027" lengthAdjust="spacingAndGlyphs">Лиственница, высокопроизводительные типы леса</text>
<text x="32.5" y="1136.2" font-family="Liberation Serif" font-size="29" stroke="#000" stroke-width="0.5">5</text>
<text x="32.9" y="1032.9" font-family="Liberation Serif" font-size="29" stroke="#000" stroke-width="0.5">10</text>
<text x="33.2" y="929.6" font-family="Liberation Serif" font-size="29" stroke="#000" stroke-width="0.5">15</text>
<text x="33.5" y="826.3" font-family="Liberation Serif" font-size="29" stroke="#000" stroke-width="0.5">20</text>
<text x="33.9" y="723.0" font-family="Liberation Serif" font-size="29" stroke="#000" stroke-width="0.5">25</text>
<text x="34.2" y="619.7" font-family="Liberation Serif" font-size="29" stroke="#000" stroke-width="0.5">30</text>
<text x="34.6" y="516.4" font-family="Liberation Serif" font-size="29" stroke="#000" stroke-width="0.5">35</text>
<text x="35.0" y="413.1" font-family="Liberation Serif" font-size="29" stroke="#000" stroke-width="0.5">40</text>
<text x="35.3" y="309.8" font-family="Liberation Serif" font-size="29" stroke="#000" stroke-width="0.5">45</text>
<text x="35.6" y="206.5" font-family="Liberation Serif" font-size="29" stroke="#000" stroke-width="0.5">50</text>
<text x="36.0" y="103.2" font-family="Liberation Serif" font-size="29" stroke="#000" stroke-width="0.5">55</text>
<text x="219.3" y="1260.5" font-family="Liberation Serif" font-size="29" stroke="#000" stroke-width="0.5" textLength="29" lengthAdjust="spacingAndGlyphs">30</text>
<text x="383.9" y="1260.6" font-family="Liberation Serif" font-size="29" stroke="#000" stroke-width="0.5" textLength="29" lengthAdjust="spacingAndGlyphs">40</text>
<text x="548.6" y="1260.8" font-family="Liberation Serif" font-size="29" stroke="#000" stroke-width="0.5" textLength="29" lengthAdjust="spacingAndGlyphs">50</text>
<text x="713.2" y="1260.9" font-family="Liberation Serif" font-size="29" stroke="#000" stroke-width="0.5" textLength="29" lengthAdjust="spacingAndGlyphs">60</text>
<text x="877.9" y="1261.1" font-family="Liberation Serif" font-size="29" stroke="#000" stroke-width="0.5" textLength="29" lengthAdjust="spacingAndGlyphs">70</text>
<text x="1042.6" y="1261.2" font-family="Liberation Serif" font-size="29" stroke="#000" stroke-width="0.5" textLength="29" lengthAdjust="spacingAndGlyphs">80</text>
<text x="1207.2" y="1261.4" font-family="Liberation Serif" font-size="29" stroke="#000" stroke-width="0.5" textLength="29" lengthAdjust="spacingAndGlyphs">90</text>
<text x="1371.9" y="1261.6" font-family="Liberation Serif" font-size="29" stroke="#000" stroke-width="0.5" textLength="43.5" lengthAdjust="spacingAndGlyphs">100</text>
<text x="1536.5" y="1261.7" font-family="Liberation Serif" font-size="29" stroke="#000" stroke-width="0.5" textLength="43.5" lengthAdjust="spacingAndGlyphs">110</text>
<text x="1701.2" y="1261.9" font-family="Liberation Serif" font-size="29" stroke="#000" stroke-width="0.5" textLength="43.5" lengthAdjust="spacingAndGlyphs">120</text>
<text x="1865.9" y="1262.0" font-family="Liberation Serif" font-size="29" stroke="#000" stroke-width="0.5" textLength="43.5" lengthAdjust="spacingAndGlyphs">130</text>
<text x="2030.5" y="1262.2" font-family="Liberation Serif" font-size="29" stroke="#000" stroke-width="0.5" textLength="43.5" lengthAdjust="spacingAndGlyphs">140</text>
<rect x="79" y="70" width="308" height="31" fill="#fff"/>
<text x="82" y="95" font-family="Liberation Serif" font-size="28" stroke="#000" stroke-width="0.15" textLength="302" lengthAdjust="spacingAndGlyphs">Сумма пл. сечений, м<tspan dy="-12" font-size="18">2</tspan><tspan dy="12">/га</tspan></text>
<text x="1915" y="1221" font-family="Liberation Serif" font-size="29" stroke="#000" stroke-width="0.6" textLength="153" lengthAdjust="spacingAndGlyphs">Возраст, лет</text>
<text x="2051" y="785" font-family="Liberation Serif" font-weight="bold" font-size="28">М</text>
</svg>
</body></html>
